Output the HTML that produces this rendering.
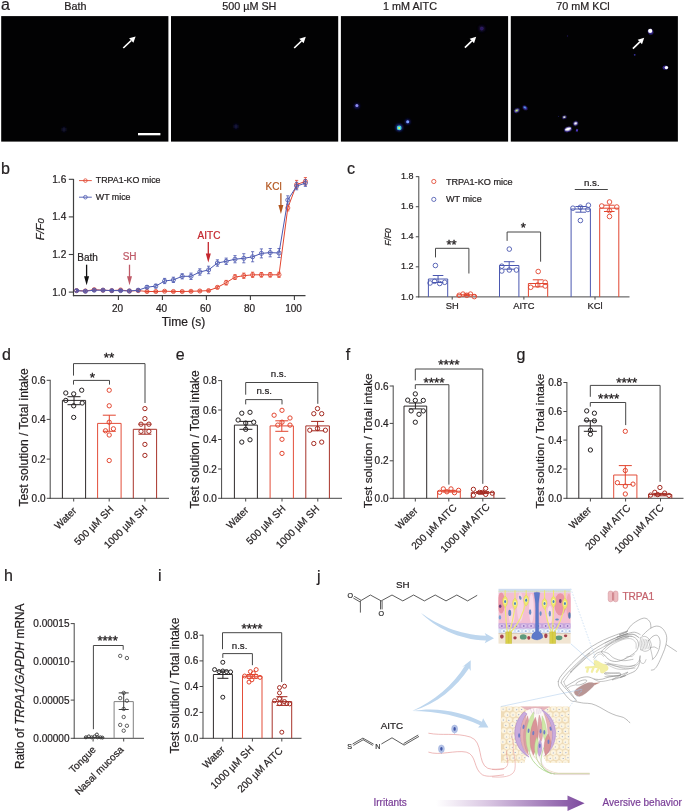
<!DOCTYPE html>
<html><head><meta charset="utf-8"><title>Figure</title>
<style>
html,body{margin:0;padding:0;background:#fff;}
body{width:685px;height:811px;overflow:hidden;font-family:"Liberation Sans",sans-serif;}
svg{display:block;opacity:0.999;}
svg text{font-family:"Liberation Sans",sans-serif;}
</style></head><body>
<svg width="685" height="811" viewBox="0 0 685 811">
<defs>
<filter id="bl1" x="-100%" y="-100%" width="300%" height="300%"><feGaussianBlur stdDeviation="0.7"/></filter>
<filter id="bl2" x="-100%" y="-100%" width="300%" height="300%"><feGaussianBlur stdDeviation="1.1"/></filter>
</defs>
<text x="1" y="10" fill="#231f20" text-anchor="start" style="font-size:16px;" stroke="#231f20" stroke-width="0.22">a</text>
<rect x="1.2" y="16.1" width="167.2" height="125.5" fill="#020203"/>
<text x="75.3" y="9.8" fill="#231f20" text-anchor="middle" style="font-size:10.8px;" stroke="#231f20" stroke-width="0.22">Bath</text>
<rect x="171" y="16.1" width="167.2" height="125.5" fill="#020203"/>
<text x="249.3" y="9.8" fill="#231f20" text-anchor="middle" style="font-size:10.8px;" stroke="#231f20" stroke-width="0.22">500 µM SH</text>
<rect x="340.9" y="16.1" width="167.2" height="125.5" fill="#020203"/>
<text x="410" y="9.8" fill="#231f20" text-anchor="middle" style="font-size:10.8px;" stroke="#231f20" stroke-width="0.22">1 mM AITC</text>
<rect x="510.8" y="16.1" width="167.1" height="125.5" fill="#020203"/>
<text x="583" y="9.8" fill="#231f20" text-anchor="middle" style="font-size:10.8px;" stroke="#231f20" stroke-width="0.22">70 mM KCl</text>
<rect x="138" y="133" width="22.4" height="2.3" fill="#fff"/>
<line x1="123.3" y1="48.0" x2="131.2" y2="40.5" stroke="#fff" stroke-width="1.7"/>
<polygon points="133.4,42.8 135.6,36.4 129.1,38.3" fill="#fff"/>
<line x1="294.2" y1="48.0" x2="301.5" y2="41.0" stroke="#fff" stroke-width="1.7"/>
<polygon points="303.6,43.2 305.8,36.8 299.3,38.7" fill="#fff"/>
<line x1="464.9" y1="47.6" x2="471.9" y2="40.9" stroke="#fff" stroke-width="1.7"/>
<polygon points="474.0,43.2 476.2,36.8 469.7,38.7" fill="#fff"/>
<line x1="632.9" y1="48.6" x2="639.9" y2="41.9" stroke="#fff" stroke-width="1.7"/>
<polygon points="642.0,44.2 644.2,37.8 637.7,39.7" fill="#fff"/>
<circle cx="64" cy="129.5" r="2.2" fill="#15153a" opacity="1" filter="url(#bl2)"/>
<circle cx="236" cy="126.5" r="2.2" fill="#17174a" opacity="1" filter="url(#bl2)"/>
<circle cx="481.8" cy="28.6" r="1.8" fill="#5a3fc0" opacity="1" filter="url(#bl1)"/>
<circle cx="481.8" cy="28.6" r="3.2" fill="#1a1040" opacity="0.8" filter="url(#bl2)"/>
<circle cx="356.9" cy="106" r="2.6" fill="#1b1d70" opacity="1" filter="url(#bl2)"/>
<circle cx="356.9" cy="105.6" r="1.5" fill="#8f8cf0" opacity="1" filter="url(#bl1)"/>
<circle cx="399.2" cy="127.6" r="3.6" fill="#1c2a8a" opacity="1" filter="url(#bl2)"/>
<circle cx="399.2" cy="127.9" r="2.4" fill="#3fd0d8" opacity="1" filter="url(#bl1)"/>
<circle cx="399.2" cy="128.1" r="1.1" fill="#d8f060" opacity="1" filter="url(#bl1)"/>
<circle cx="407.7" cy="121.8" r="2.5" fill="#1a2080" opacity="1" filter="url(#bl2)"/>
<circle cx="407.7" cy="121.8" r="1.5" fill="#7fa0ff" opacity="1" filter="url(#bl1)"/>
<ellipse cx="650.6" cy="31.8" rx="2.6" ry="3.0" fill="#3a2a98" opacity="0.9" filter="url(#bl1)" transform="rotate(-30 650.6 31.8)"/>
<circle cx="650.2" cy="30.9" r="2.1" fill="#ffffff" opacity="1" filter="url(#bl1)"/>
<ellipse cx="665.4" cy="67.6" rx="2.8" ry="2.2" fill="#3a2a98" opacity="0.9" filter="url(#bl1)" transform="rotate(0 665.4 67.6)"/>
<circle cx="666.4" cy="67.6" r="1.7" fill="#ffffff" opacity="1" filter="url(#bl1)"/>
<ellipse cx="516.7" cy="110.4" rx="2.9" ry="2.0" fill="#3a2aa0" opacity="1" filter="url(#bl1)" transform="rotate(-30 516.7 110.4)"/>
<ellipse cx="516.7" cy="110.4" rx="1.7" ry="1.0" fill="#c8f070" opacity="1" filter="url(#bl1)" transform="rotate(-30 516.7 110.4)"/>
<ellipse cx="525.1" cy="107.8" rx="2.7" ry="1.9" fill="#3a2aa0" opacity="1" filter="url(#bl1)" transform="rotate(40 525.1 107.8)"/>
<ellipse cx="524.9" cy="107.5" rx="1.3" ry="0.8" fill="#58c0f0" opacity="1" filter="url(#bl1)" transform="rotate(40 524.9 107.5)"/>
<ellipse cx="564.3" cy="117.2" rx="2.2" ry="1.7" fill="#3a2a98" opacity="0.9" filter="url(#bl1)" transform="rotate(-20 564.3 117.2)"/>
<ellipse cx="564.3" cy="117.1" rx="1.3" ry="0.9" fill="#f4ffd0" opacity="1" filter="url(#bl1)" transform="rotate(-20 564.3 117.1)"/>
<ellipse cx="575.6" cy="123.5" rx="2.6" ry="2.2" fill="#3a2a98" opacity="0.9" filter="url(#bl1)" transform="rotate(-30 575.6 123.5)"/>
<ellipse cx="575.6" cy="123.4" rx="1.6" ry="1.2" fill="#ffffff" opacity="1" filter="url(#bl1)" transform="rotate(-30 575.6 123.4)"/>
<ellipse cx="568" cy="129.3" rx="4.0" ry="2.6" fill="#3a2a98" opacity="0.9" filter="url(#bl1)" transform="rotate(-18 568 129.3)"/>
<ellipse cx="568" cy="129.1" rx="3.0" ry="1.7" fill="#ffffff" opacity="1" filter="url(#bl1)" transform="rotate(-18 568 129.1)"/>
<ellipse cx="577" cy="130.3" rx="1.0" ry="1.5" fill="#5038c8" opacity="1" filter="url(#bl1)" transform="rotate(10 577 130.3)"/>
<circle cx="634.7" cy="54.8" r="0.9" fill="#3830a0" opacity="1" filter="url(#bl1)"/>
<circle cx="558.5" cy="116.3" r="0.6" fill="#1c1850" opacity="1" filter="url(#bl1)"/>
<circle cx="567.5" cy="36" r="0.7" fill="#1c1850" opacity="1" filter="url(#bl1)"/>
<text x="1" y="174" fill="#231f20" text-anchor="start" style="font-size:16px;" stroke="#231f20" stroke-width="0.22">b</text>
<line x1="73.5" y1="178.9" x2="73.5" y2="296.2" stroke="#3f3f3f" stroke-width="1.2"/>
<line x1="72.9" y1="295.6" x2="305.5" y2="295.6" stroke="#3f3f3f" stroke-width="1.2"/>
<line x1="68.8" y1="292.1" x2="73.3" y2="292.1" stroke="#3f3f3f" stroke-width="1.1"/>
<text x="66.3" y="295.6" fill="#231f20" text-anchor="end" style="font-size:10.1px;" stroke="#231f20" stroke-width="0.22">1.0</text>
<line x1="68.8" y1="254.50000000000003" x2="73.3" y2="254.50000000000003" stroke="#3f3f3f" stroke-width="1.1"/>
<text x="66.3" y="258.0" fill="#231f20" text-anchor="end" style="font-size:10.1px;" stroke="#231f20" stroke-width="0.22">1.2</text>
<line x1="68.8" y1="216.90000000000003" x2="73.3" y2="216.90000000000003" stroke="#3f3f3f" stroke-width="1.1"/>
<text x="66.3" y="220.40000000000003" fill="#231f20" text-anchor="end" style="font-size:10.1px;" stroke="#231f20" stroke-width="0.22">1.4</text>
<line x1="68.8" y1="179.3" x2="73.3" y2="179.3" stroke="#3f3f3f" stroke-width="1.1"/>
<text x="66.3" y="182.8" fill="#231f20" text-anchor="end" style="font-size:10.1px;" stroke="#231f20" stroke-width="0.22">1.6</text>
<line x1="118.4" y1="295.6" x2="118.4" y2="300" stroke="#3f3f3f" stroke-width="1.1"/>
<text x="117.60000000000001" y="311.8" fill="#231f20" text-anchor="middle" style="font-size:10.0px;" stroke="#231f20" stroke-width="0.22">20</text>
<line x1="162.4" y1="295.6" x2="162.4" y2="300" stroke="#3f3f3f" stroke-width="1.1"/>
<text x="161.6" y="311.8" fill="#231f20" text-anchor="middle" style="font-size:10.0px;" stroke="#231f20" stroke-width="0.22">40</text>
<line x1="206.4" y1="295.6" x2="206.4" y2="300" stroke="#3f3f3f" stroke-width="1.1"/>
<text x="205.6" y="311.8" fill="#231f20" text-anchor="middle" style="font-size:10.0px;" stroke="#231f20" stroke-width="0.22">60</text>
<line x1="250.4" y1="295.6" x2="250.4" y2="300" stroke="#3f3f3f" stroke-width="1.1"/>
<text x="249.6" y="311.8" fill="#231f20" text-anchor="middle" style="font-size:10.0px;" stroke="#231f20" stroke-width="0.22">80</text>
<line x1="294.40000000000003" y1="295.6" x2="294.40000000000003" y2="300" stroke="#3f3f3f" stroke-width="1.1"/>
<text x="293.6" y="311.8" fill="#231f20" text-anchor="middle" style="font-size:10.0px;" stroke="#231f20" stroke-width="0.22">100</text>
<text x="183.5" y="325.6" fill="#231f20" text-anchor="middle" style="font-size:12px;" stroke="#231f20" stroke-width="0.22">Time (s)</text>
<text x="43.6" y="229.3" fill="#231f20" text-anchor="middle" style="font-size:11.2px;font-style:italic;" transform="rotate(-90 43.6 229.3)" stroke="#231f20" stroke-width="0.22"><tspan>F/F</tspan><tspan font-size="9.5">0</tspan></text>
<polyline points="76.6,290.6 85.4,291.0 94.2,289.7 103.0,290.2 111.8,290.6 120.6,290.0 129.4,291.0 138.2,290.6 147.0,291.5 155.8,291.5 164.6,291.2 173.4,291.5 182.2,291.5 191.0,291.3 199.8,291.0 208.6,290.6 217.4,287.4 226.2,282.7 235.0,277.1 243.8,275.7 252.6,274.8 261.4,274.8 270.2,274.8 279.0,274.8 287.8,207.9 296.6,184.6 305.4,181.4" fill="none" stroke="#e2452f" stroke-width="1"/>
<line x1="76.6" y1="289.7" x2="76.6" y2="291.5" stroke="#e2452f" stroke-width="0.8"/>
<line x1="75.0" y1="289.7" x2="78.19999999999999" y2="289.7" stroke="#e2452f" stroke-width="0.8"/>
<line x1="75.0" y1="291.5" x2="78.19999999999999" y2="291.5" stroke="#e2452f" stroke-width="0.8"/>
<circle cx="76.6" cy="290.6" r="2.05" stroke="#e2452f" stroke-width="0.85" fill="none"/>
<line x1="85.4" y1="290.0" x2="85.4" y2="291.9" stroke="#e2452f" stroke-width="0.8"/>
<line x1="83.80000000000001" y1="290.0" x2="87.0" y2="290.0" stroke="#e2452f" stroke-width="0.8"/>
<line x1="83.80000000000001" y1="291.9" x2="87.0" y2="291.9" stroke="#e2452f" stroke-width="0.8"/>
<circle cx="85.4" cy="291.0" r="2.05" stroke="#e2452f" stroke-width="0.85" fill="none"/>
<line x1="94.2" y1="288.7" x2="94.2" y2="290.6" stroke="#e2452f" stroke-width="0.8"/>
<line x1="92.60000000000001" y1="288.7" x2="95.8" y2="288.7" stroke="#e2452f" stroke-width="0.8"/>
<line x1="92.60000000000001" y1="290.6" x2="95.8" y2="290.6" stroke="#e2452f" stroke-width="0.8"/>
<circle cx="94.2" cy="289.7" r="2.05" stroke="#e2452f" stroke-width="0.85" fill="none"/>
<line x1="103.0" y1="289.3" x2="103.0" y2="291.2" stroke="#e2452f" stroke-width="0.8"/>
<line x1="101.4" y1="289.3" x2="104.6" y2="289.3" stroke="#e2452f" stroke-width="0.8"/>
<line x1="101.4" y1="291.2" x2="104.6" y2="291.2" stroke="#e2452f" stroke-width="0.8"/>
<circle cx="103.0" cy="290.2" r="2.05" stroke="#e2452f" stroke-width="0.85" fill="none"/>
<line x1="111.8" y1="289.7" x2="111.8" y2="291.5" stroke="#e2452f" stroke-width="0.8"/>
<line x1="110.2" y1="289.7" x2="113.39999999999999" y2="289.7" stroke="#e2452f" stroke-width="0.8"/>
<line x1="110.2" y1="291.5" x2="113.39999999999999" y2="291.5" stroke="#e2452f" stroke-width="0.8"/>
<circle cx="111.8" cy="290.6" r="2.05" stroke="#e2452f" stroke-width="0.85" fill="none"/>
<line x1="120.6" y1="289.1" x2="120.6" y2="291.0" stroke="#e2452f" stroke-width="0.8"/>
<line x1="119.0" y1="289.1" x2="122.19999999999999" y2="289.1" stroke="#e2452f" stroke-width="0.8"/>
<line x1="119.0" y1="291.0" x2="122.19999999999999" y2="291.0" stroke="#e2452f" stroke-width="0.8"/>
<circle cx="120.6" cy="290.0" r="2.05" stroke="#e2452f" stroke-width="0.85" fill="none"/>
<line x1="129.4" y1="290.0" x2="129.4" y2="291.9" stroke="#e2452f" stroke-width="0.8"/>
<line x1="127.80000000000001" y1="290.0" x2="131.0" y2="290.0" stroke="#e2452f" stroke-width="0.8"/>
<line x1="127.80000000000001" y1="291.9" x2="131.0" y2="291.9" stroke="#e2452f" stroke-width="0.8"/>
<circle cx="129.4" cy="291.0" r="2.05" stroke="#e2452f" stroke-width="0.85" fill="none"/>
<line x1="138.2" y1="289.7" x2="138.2" y2="291.5" stroke="#e2452f" stroke-width="0.8"/>
<line x1="136.6" y1="289.7" x2="139.79999999999998" y2="289.7" stroke="#e2452f" stroke-width="0.8"/>
<line x1="136.6" y1="291.5" x2="139.79999999999998" y2="291.5" stroke="#e2452f" stroke-width="0.8"/>
<circle cx="138.2" cy="290.6" r="2.05" stroke="#e2452f" stroke-width="0.85" fill="none"/>
<line x1="147.0" y1="290.8" x2="147.0" y2="292.3" stroke="#e2452f" stroke-width="0.8"/>
<line x1="145.4" y1="290.8" x2="148.6" y2="290.8" stroke="#e2452f" stroke-width="0.8"/>
<line x1="145.4" y1="292.3" x2="148.6" y2="292.3" stroke="#e2452f" stroke-width="0.8"/>
<circle cx="147.0" cy="291.5" r="2.05" stroke="#e2452f" stroke-width="0.85" fill="none"/>
<line x1="155.8" y1="290.8" x2="155.8" y2="292.3" stroke="#e2452f" stroke-width="0.8"/>
<line x1="154.20000000000002" y1="290.8" x2="157.4" y2="290.8" stroke="#e2452f" stroke-width="0.8"/>
<line x1="154.20000000000002" y1="292.3" x2="157.4" y2="292.3" stroke="#e2452f" stroke-width="0.8"/>
<circle cx="155.8" cy="291.5" r="2.05" stroke="#e2452f" stroke-width="0.85" fill="none"/>
<line x1="164.6" y1="290.4" x2="164.6" y2="291.9" stroke="#e2452f" stroke-width="0.8"/>
<line x1="163.0" y1="290.4" x2="166.2" y2="290.4" stroke="#e2452f" stroke-width="0.8"/>
<line x1="163.0" y1="291.9" x2="166.2" y2="291.9" stroke="#e2452f" stroke-width="0.8"/>
<circle cx="164.6" cy="291.2" r="2.05" stroke="#e2452f" stroke-width="0.85" fill="none"/>
<line x1="173.4" y1="290.8" x2="173.4" y2="292.3" stroke="#e2452f" stroke-width="0.8"/>
<line x1="171.8" y1="290.8" x2="175.0" y2="290.8" stroke="#e2452f" stroke-width="0.8"/>
<line x1="171.8" y1="292.3" x2="175.0" y2="292.3" stroke="#e2452f" stroke-width="0.8"/>
<circle cx="173.4" cy="291.5" r="2.05" stroke="#e2452f" stroke-width="0.85" fill="none"/>
<line x1="182.2" y1="290.8" x2="182.2" y2="292.3" stroke="#e2452f" stroke-width="0.8"/>
<line x1="180.6" y1="290.8" x2="183.79999999999998" y2="290.8" stroke="#e2452f" stroke-width="0.8"/>
<line x1="180.6" y1="292.3" x2="183.79999999999998" y2="292.3" stroke="#e2452f" stroke-width="0.8"/>
<circle cx="182.2" cy="291.5" r="2.05" stroke="#e2452f" stroke-width="0.85" fill="none"/>
<line x1="191.0" y1="290.6" x2="191.0" y2="292.1" stroke="#e2452f" stroke-width="0.8"/>
<line x1="189.4" y1="290.6" x2="192.6" y2="290.6" stroke="#e2452f" stroke-width="0.8"/>
<line x1="189.4" y1="292.1" x2="192.6" y2="292.1" stroke="#e2452f" stroke-width="0.8"/>
<circle cx="191.0" cy="291.3" r="2.05" stroke="#e2452f" stroke-width="0.85" fill="none"/>
<line x1="199.8" y1="290.0" x2="199.8" y2="291.9" stroke="#e2452f" stroke-width="0.8"/>
<line x1="198.20000000000002" y1="290.0" x2="201.4" y2="290.0" stroke="#e2452f" stroke-width="0.8"/>
<line x1="198.20000000000002" y1="291.9" x2="201.4" y2="291.9" stroke="#e2452f" stroke-width="0.8"/>
<circle cx="199.8" cy="291.0" r="2.05" stroke="#e2452f" stroke-width="0.85" fill="none"/>
<line x1="208.6" y1="289.7" x2="208.6" y2="291.5" stroke="#e2452f" stroke-width="0.8"/>
<line x1="207.0" y1="289.7" x2="210.2" y2="289.7" stroke="#e2452f" stroke-width="0.8"/>
<line x1="207.0" y1="291.5" x2="210.2" y2="291.5" stroke="#e2452f" stroke-width="0.8"/>
<circle cx="208.6" cy="290.6" r="2.05" stroke="#e2452f" stroke-width="0.85" fill="none"/>
<line x1="217.4" y1="286.1" x2="217.4" y2="288.7" stroke="#e2452f" stroke-width="0.8"/>
<line x1="215.8" y1="286.1" x2="219.0" y2="286.1" stroke="#e2452f" stroke-width="0.8"/>
<line x1="215.8" y1="288.7" x2="219.0" y2="288.7" stroke="#e2452f" stroke-width="0.8"/>
<circle cx="217.4" cy="287.4" r="2.05" stroke="#e2452f" stroke-width="0.85" fill="none"/>
<line x1="226.2" y1="280.4" x2="226.2" y2="285.0" stroke="#e2452f" stroke-width="0.8"/>
<line x1="224.6" y1="280.4" x2="227.79999999999998" y2="280.4" stroke="#e2452f" stroke-width="0.8"/>
<line x1="224.6" y1="285.0" x2="227.79999999999998" y2="285.0" stroke="#e2452f" stroke-width="0.8"/>
<circle cx="226.2" cy="282.7" r="2.05" stroke="#e2452f" stroke-width="0.85" fill="none"/>
<line x1="235.0" y1="274.6" x2="235.0" y2="279.5" stroke="#e2452f" stroke-width="0.8"/>
<line x1="233.4" y1="274.6" x2="236.6" y2="274.6" stroke="#e2452f" stroke-width="0.8"/>
<line x1="233.4" y1="279.5" x2="236.6" y2="279.5" stroke="#e2452f" stroke-width="0.8"/>
<circle cx="235.0" cy="277.1" r="2.05" stroke="#e2452f" stroke-width="0.85" fill="none"/>
<line x1="243.8" y1="273.1" x2="243.8" y2="278.4" stroke="#e2452f" stroke-width="0.8"/>
<line x1="242.20000000000002" y1="273.1" x2="245.4" y2="273.1" stroke="#e2452f" stroke-width="0.8"/>
<line x1="242.20000000000002" y1="278.4" x2="245.4" y2="278.4" stroke="#e2452f" stroke-width="0.8"/>
<circle cx="243.8" cy="275.7" r="2.05" stroke="#e2452f" stroke-width="0.85" fill="none"/>
<line x1="252.6" y1="272.2" x2="252.6" y2="277.4" stroke="#e2452f" stroke-width="0.8"/>
<line x1="251.0" y1="272.2" x2="254.2" y2="272.2" stroke="#e2452f" stroke-width="0.8"/>
<line x1="251.0" y1="277.4" x2="254.2" y2="277.4" stroke="#e2452f" stroke-width="0.8"/>
<circle cx="252.6" cy="274.8" r="2.05" stroke="#e2452f" stroke-width="0.85" fill="none"/>
<line x1="261.4" y1="272.5" x2="261.4" y2="277.1" stroke="#e2452f" stroke-width="0.8"/>
<line x1="259.79999999999995" y1="272.5" x2="263.0" y2="272.5" stroke="#e2452f" stroke-width="0.8"/>
<line x1="259.79999999999995" y1="277.1" x2="263.0" y2="277.1" stroke="#e2452f" stroke-width="0.8"/>
<circle cx="261.4" cy="274.8" r="2.05" stroke="#e2452f" stroke-width="0.85" fill="none"/>
<line x1="270.2" y1="272.5" x2="270.2" y2="277.1" stroke="#e2452f" stroke-width="0.8"/>
<line x1="268.59999999999997" y1="272.5" x2="271.8" y2="272.5" stroke="#e2452f" stroke-width="0.8"/>
<line x1="268.59999999999997" y1="277.1" x2="271.8" y2="277.1" stroke="#e2452f" stroke-width="0.8"/>
<circle cx="270.2" cy="274.8" r="2.05" stroke="#e2452f" stroke-width="0.85" fill="none"/>
<line x1="279.0" y1="272.2" x2="279.0" y2="277.4" stroke="#e2452f" stroke-width="0.8"/>
<line x1="277.4" y1="272.2" x2="280.6" y2="272.2" stroke="#e2452f" stroke-width="0.8"/>
<line x1="277.4" y1="277.4" x2="280.6" y2="277.4" stroke="#e2452f" stroke-width="0.8"/>
<circle cx="279.0" cy="274.8" r="2.05" stroke="#e2452f" stroke-width="0.85" fill="none"/>
<line x1="287.8" y1="204.9" x2="287.8" y2="210.9" stroke="#e2452f" stroke-width="0.8"/>
<line x1="286.2" y1="204.9" x2="289.40000000000003" y2="204.9" stroke="#e2452f" stroke-width="0.8"/>
<line x1="286.2" y1="210.9" x2="289.40000000000003" y2="210.9" stroke="#e2452f" stroke-width="0.8"/>
<circle cx="287.8" cy="207.9" r="2.05" stroke="#e2452f" stroke-width="0.85" fill="none"/>
<line x1="296.6" y1="180.4" x2="296.6" y2="188.7" stroke="#e2452f" stroke-width="0.8"/>
<line x1="295.0" y1="180.4" x2="298.20000000000005" y2="180.4" stroke="#e2452f" stroke-width="0.8"/>
<line x1="295.0" y1="188.7" x2="298.20000000000005" y2="188.7" stroke="#e2452f" stroke-width="0.8"/>
<circle cx="296.6" cy="184.6" r="2.05" stroke="#e2452f" stroke-width="0.85" fill="none"/>
<line x1="305.4" y1="177.6" x2="305.4" y2="185.1" stroke="#e2452f" stroke-width="0.8"/>
<line x1="303.79999999999995" y1="177.6" x2="307.0" y2="177.6" stroke="#e2452f" stroke-width="0.8"/>
<line x1="303.79999999999995" y1="185.1" x2="307.0" y2="185.1" stroke="#e2452f" stroke-width="0.8"/>
<circle cx="305.4" cy="181.4" r="2.05" stroke="#e2452f" stroke-width="0.85" fill="none"/>
<polyline points="76.6,290.6 85.4,291.2 94.2,290.2 103.0,290.2 111.8,290.6 120.6,290.6 129.4,291.0 138.2,290.2 147.0,287.2 155.8,286.1 164.6,281.0 173.4,279.9 182.2,276.3 191.0,276.3 199.8,272.0 208.6,269.9 217.4,263.0 226.2,261.3 235.0,259.2 243.8,258.3 252.6,256.8 261.4,253.4 270.2,252.6 279.0,253.0 287.8,200.0 296.6,186.1 305.4,183.1" fill="none" stroke="#4b58b0" stroke-width="1"/>
<line x1="76.6" y1="289.5" x2="76.6" y2="291.7" stroke="#4b58b0" stroke-width="0.8"/>
<line x1="75.0" y1="289.5" x2="78.19999999999999" y2="289.5" stroke="#4b58b0" stroke-width="0.8"/>
<line x1="75.0" y1="291.7" x2="78.19999999999999" y2="291.7" stroke="#4b58b0" stroke-width="0.8"/>
<circle cx="76.6" cy="290.6" r="2.05" stroke="#4b58b0" stroke-width="0.85" fill="none"/>
<line x1="85.4" y1="290.0" x2="85.4" y2="292.3" stroke="#4b58b0" stroke-width="0.8"/>
<line x1="83.80000000000001" y1="290.0" x2="87.0" y2="290.0" stroke="#4b58b0" stroke-width="0.8"/>
<line x1="83.80000000000001" y1="292.3" x2="87.0" y2="292.3" stroke="#4b58b0" stroke-width="0.8"/>
<circle cx="85.4" cy="291.2" r="2.05" stroke="#4b58b0" stroke-width="0.85" fill="none"/>
<line x1="94.2" y1="289.1" x2="94.2" y2="291.3" stroke="#4b58b0" stroke-width="0.8"/>
<line x1="92.60000000000001" y1="289.1" x2="95.8" y2="289.1" stroke="#4b58b0" stroke-width="0.8"/>
<line x1="92.60000000000001" y1="291.3" x2="95.8" y2="291.3" stroke="#4b58b0" stroke-width="0.8"/>
<circle cx="94.2" cy="290.2" r="2.05" stroke="#4b58b0" stroke-width="0.85" fill="none"/>
<line x1="103.0" y1="289.1" x2="103.0" y2="291.3" stroke="#4b58b0" stroke-width="0.8"/>
<line x1="101.4" y1="289.1" x2="104.6" y2="289.1" stroke="#4b58b0" stroke-width="0.8"/>
<line x1="101.4" y1="291.3" x2="104.6" y2="291.3" stroke="#4b58b0" stroke-width="0.8"/>
<circle cx="103.0" cy="290.2" r="2.05" stroke="#4b58b0" stroke-width="0.85" fill="none"/>
<line x1="111.8" y1="289.5" x2="111.8" y2="291.7" stroke="#4b58b0" stroke-width="0.8"/>
<line x1="110.2" y1="289.5" x2="113.39999999999999" y2="289.5" stroke="#4b58b0" stroke-width="0.8"/>
<line x1="110.2" y1="291.7" x2="113.39999999999999" y2="291.7" stroke="#4b58b0" stroke-width="0.8"/>
<circle cx="111.8" cy="290.6" r="2.05" stroke="#4b58b0" stroke-width="0.85" fill="none"/>
<line x1="120.6" y1="289.5" x2="120.6" y2="291.7" stroke="#4b58b0" stroke-width="0.8"/>
<line x1="119.0" y1="289.5" x2="122.19999999999999" y2="289.5" stroke="#4b58b0" stroke-width="0.8"/>
<line x1="119.0" y1="291.7" x2="122.19999999999999" y2="291.7" stroke="#4b58b0" stroke-width="0.8"/>
<circle cx="120.6" cy="290.6" r="2.05" stroke="#4b58b0" stroke-width="0.85" fill="none"/>
<line x1="129.4" y1="289.8" x2="129.4" y2="292.1" stroke="#4b58b0" stroke-width="0.8"/>
<line x1="127.80000000000001" y1="289.8" x2="131.0" y2="289.8" stroke="#4b58b0" stroke-width="0.8"/>
<line x1="127.80000000000001" y1="292.1" x2="131.0" y2="292.1" stroke="#4b58b0" stroke-width="0.8"/>
<circle cx="129.4" cy="291.0" r="2.05" stroke="#4b58b0" stroke-width="0.85" fill="none"/>
<line x1="138.2" y1="288.9" x2="138.2" y2="291.5" stroke="#4b58b0" stroke-width="0.8"/>
<line x1="136.6" y1="288.9" x2="139.79999999999998" y2="288.9" stroke="#4b58b0" stroke-width="0.8"/>
<line x1="136.6" y1="291.5" x2="139.79999999999998" y2="291.5" stroke="#4b58b0" stroke-width="0.8"/>
<circle cx="138.2" cy="290.2" r="2.05" stroke="#4b58b0" stroke-width="0.85" fill="none"/>
<line x1="147.0" y1="285.7" x2="147.0" y2="288.7" stroke="#4b58b0" stroke-width="0.8"/>
<line x1="145.4" y1="285.7" x2="148.6" y2="285.7" stroke="#4b58b0" stroke-width="0.8"/>
<line x1="145.4" y1="288.7" x2="148.6" y2="288.7" stroke="#4b58b0" stroke-width="0.8"/>
<circle cx="147.0" cy="287.2" r="2.05" stroke="#4b58b0" stroke-width="0.85" fill="none"/>
<line x1="155.8" y1="284.2" x2="155.8" y2="288.0" stroke="#4b58b0" stroke-width="0.8"/>
<line x1="154.20000000000002" y1="284.2" x2="157.4" y2="284.2" stroke="#4b58b0" stroke-width="0.8"/>
<line x1="154.20000000000002" y1="288.0" x2="157.4" y2="288.0" stroke="#4b58b0" stroke-width="0.8"/>
<circle cx="155.8" cy="286.1" r="2.05" stroke="#4b58b0" stroke-width="0.85" fill="none"/>
<line x1="164.6" y1="278.4" x2="164.6" y2="283.6" stroke="#4b58b0" stroke-width="0.8"/>
<line x1="163.0" y1="278.4" x2="166.2" y2="278.4" stroke="#4b58b0" stroke-width="0.8"/>
<line x1="163.0" y1="283.6" x2="166.2" y2="283.6" stroke="#4b58b0" stroke-width="0.8"/>
<circle cx="164.6" cy="281.0" r="2.05" stroke="#4b58b0" stroke-width="0.85" fill="none"/>
<line x1="173.4" y1="277.2" x2="173.4" y2="282.5" stroke="#4b58b0" stroke-width="0.8"/>
<line x1="171.8" y1="277.2" x2="175.0" y2="277.2" stroke="#4b58b0" stroke-width="0.8"/>
<line x1="171.8" y1="282.5" x2="175.0" y2="282.5" stroke="#4b58b0" stroke-width="0.8"/>
<circle cx="173.4" cy="279.9" r="2.05" stroke="#4b58b0" stroke-width="0.85" fill="none"/>
<line x1="182.2" y1="273.7" x2="182.2" y2="278.9" stroke="#4b58b0" stroke-width="0.8"/>
<line x1="180.6" y1="273.7" x2="183.79999999999998" y2="273.7" stroke="#4b58b0" stroke-width="0.8"/>
<line x1="180.6" y1="278.9" x2="183.79999999999998" y2="278.9" stroke="#4b58b0" stroke-width="0.8"/>
<circle cx="182.2" cy="276.3" r="2.05" stroke="#4b58b0" stroke-width="0.85" fill="none"/>
<line x1="191.0" y1="273.1" x2="191.0" y2="279.5" stroke="#4b58b0" stroke-width="0.8"/>
<line x1="189.4" y1="273.1" x2="192.6" y2="273.1" stroke="#4b58b0" stroke-width="0.8"/>
<line x1="189.4" y1="279.5" x2="192.6" y2="279.5" stroke="#4b58b0" stroke-width="0.8"/>
<circle cx="191.0" cy="276.3" r="2.05" stroke="#4b58b0" stroke-width="0.85" fill="none"/>
<line x1="199.8" y1="268.8" x2="199.8" y2="275.2" stroke="#4b58b0" stroke-width="0.8"/>
<line x1="198.20000000000002" y1="268.8" x2="201.4" y2="268.8" stroke="#4b58b0" stroke-width="0.8"/>
<line x1="198.20000000000002" y1="275.2" x2="201.4" y2="275.2" stroke="#4b58b0" stroke-width="0.8"/>
<circle cx="199.8" cy="272.0" r="2.05" stroke="#4b58b0" stroke-width="0.85" fill="none"/>
<line x1="208.6" y1="266.2" x2="208.6" y2="273.7" stroke="#4b58b0" stroke-width="0.8"/>
<line x1="207.0" y1="266.2" x2="210.2" y2="266.2" stroke="#4b58b0" stroke-width="0.8"/>
<line x1="207.0" y1="273.7" x2="210.2" y2="273.7" stroke="#4b58b0" stroke-width="0.8"/>
<circle cx="208.6" cy="269.9" r="2.05" stroke="#4b58b0" stroke-width="0.85" fill="none"/>
<line x1="217.4" y1="259.8" x2="217.4" y2="266.2" stroke="#4b58b0" stroke-width="0.8"/>
<line x1="215.8" y1="259.8" x2="219.0" y2="259.8" stroke="#4b58b0" stroke-width="0.8"/>
<line x1="215.8" y1="266.2" x2="219.0" y2="266.2" stroke="#4b58b0" stroke-width="0.8"/>
<circle cx="217.4" cy="263.0" r="2.05" stroke="#4b58b0" stroke-width="0.85" fill="none"/>
<line x1="226.2" y1="258.1" x2="226.2" y2="264.5" stroke="#4b58b0" stroke-width="0.8"/>
<line x1="224.6" y1="258.1" x2="227.79999999999998" y2="258.1" stroke="#4b58b0" stroke-width="0.8"/>
<line x1="224.6" y1="264.5" x2="227.79999999999998" y2="264.5" stroke="#4b58b0" stroke-width="0.8"/>
<circle cx="226.2" cy="261.3" r="2.05" stroke="#4b58b0" stroke-width="0.85" fill="none"/>
<line x1="235.0" y1="255.6" x2="235.0" y2="262.8" stroke="#4b58b0" stroke-width="0.8"/>
<line x1="233.4" y1="255.6" x2="236.6" y2="255.6" stroke="#4b58b0" stroke-width="0.8"/>
<line x1="233.4" y1="262.8" x2="236.6" y2="262.8" stroke="#4b58b0" stroke-width="0.8"/>
<circle cx="235.0" cy="259.2" r="2.05" stroke="#4b58b0" stroke-width="0.85" fill="none"/>
<line x1="243.8" y1="253.7" x2="243.8" y2="262.8" stroke="#4b58b0" stroke-width="0.8"/>
<line x1="242.20000000000002" y1="253.7" x2="245.4" y2="253.7" stroke="#4b58b0" stroke-width="0.8"/>
<line x1="242.20000000000002" y1="262.8" x2="245.4" y2="262.8" stroke="#4b58b0" stroke-width="0.8"/>
<circle cx="243.8" cy="258.3" r="2.05" stroke="#4b58b0" stroke-width="0.85" fill="none"/>
<line x1="252.6" y1="251.7" x2="252.6" y2="261.8" stroke="#4b58b0" stroke-width="0.8"/>
<line x1="251.0" y1="251.7" x2="254.2" y2="251.7" stroke="#4b58b0" stroke-width="0.8"/>
<line x1="251.0" y1="261.8" x2="254.2" y2="261.8" stroke="#4b58b0" stroke-width="0.8"/>
<circle cx="252.6" cy="256.8" r="2.05" stroke="#4b58b0" stroke-width="0.85" fill="none"/>
<line x1="261.4" y1="248.9" x2="261.4" y2="257.9" stroke="#4b58b0" stroke-width="0.8"/>
<line x1="259.79999999999995" y1="248.9" x2="263.0" y2="248.9" stroke="#4b58b0" stroke-width="0.8"/>
<line x1="259.79999999999995" y1="257.9" x2="263.0" y2="257.9" stroke="#4b58b0" stroke-width="0.8"/>
<circle cx="261.4" cy="253.4" r="2.05" stroke="#4b58b0" stroke-width="0.85" fill="none"/>
<line x1="270.2" y1="248.5" x2="270.2" y2="256.8" stroke="#4b58b0" stroke-width="0.8"/>
<line x1="268.59999999999997" y1="248.5" x2="271.8" y2="248.5" stroke="#4b58b0" stroke-width="0.8"/>
<line x1="268.59999999999997" y1="256.8" x2="271.8" y2="256.8" stroke="#4b58b0" stroke-width="0.8"/>
<circle cx="270.2" cy="252.6" r="2.05" stroke="#4b58b0" stroke-width="0.85" fill="none"/>
<line x1="279.0" y1="248.5" x2="279.0" y2="257.5" stroke="#4b58b0" stroke-width="0.8"/>
<line x1="277.4" y1="248.5" x2="280.6" y2="248.5" stroke="#4b58b0" stroke-width="0.8"/>
<line x1="277.4" y1="257.5" x2="280.6" y2="257.5" stroke="#4b58b0" stroke-width="0.8"/>
<circle cx="279.0" cy="253.0" r="2.05" stroke="#4b58b0" stroke-width="0.85" fill="none"/>
<line x1="287.8" y1="195.8" x2="287.8" y2="204.1" stroke="#4b58b0" stroke-width="0.8"/>
<line x1="286.2" y1="195.8" x2="289.40000000000003" y2="195.8" stroke="#4b58b0" stroke-width="0.8"/>
<line x1="286.2" y1="204.1" x2="289.40000000000003" y2="204.1" stroke="#4b58b0" stroke-width="0.8"/>
<circle cx="287.8" cy="200.0" r="2.05" stroke="#4b58b0" stroke-width="0.85" fill="none"/>
<line x1="296.6" y1="182.3" x2="296.6" y2="189.8" stroke="#4b58b0" stroke-width="0.8"/>
<line x1="295.0" y1="182.3" x2="298.20000000000005" y2="182.3" stroke="#4b58b0" stroke-width="0.8"/>
<line x1="295.0" y1="189.8" x2="298.20000000000005" y2="189.8" stroke="#4b58b0" stroke-width="0.8"/>
<circle cx="296.6" cy="186.1" r="2.05" stroke="#4b58b0" stroke-width="0.85" fill="none"/>
<line x1="305.4" y1="179.7" x2="305.4" y2="186.4" stroke="#4b58b0" stroke-width="0.8"/>
<line x1="303.79999999999995" y1="179.7" x2="307.0" y2="179.7" stroke="#4b58b0" stroke-width="0.8"/>
<line x1="303.79999999999995" y1="186.4" x2="307.0" y2="186.4" stroke="#4b58b0" stroke-width="0.8"/>
<circle cx="305.4" cy="183.1" r="2.05" stroke="#4b58b0" stroke-width="0.85" fill="none"/>
<line x1="79" y1="180.6" x2="91.8" y2="180.6" stroke="#e2452f" stroke-width="0.9"/>
<circle cx="85.4" cy="180.6" r="1.8" stroke="#e2452f" stroke-width="0.8" fill="none"/>
<text x="95.8" y="183.1" fill="#231f20" text-anchor="start" style="font-size:8.85px;" stroke="#231f20" stroke-width="0.22">TRPA1-KO mice</text>
<line x1="79" y1="197.2" x2="91.8" y2="197.2" stroke="#4b58b0" stroke-width="0.9"/>
<circle cx="85.4" cy="197.2" r="1.8" stroke="#4b58b0" stroke-width="0.8" fill="none"/>
<text x="95.8" y="200" fill="#231f20" text-anchor="start" style="font-size:8.85px;" stroke="#231f20" stroke-width="0.22">WT mice</text>
<text x="87.6" y="260.9" fill="#231f20" text-anchor="middle" style="font-size:10px;" stroke="#231f20" stroke-width="0.22">Bath</text>
<line x1="86.6" y1="264.7" x2="86.6" y2="277.2" stroke="#111" stroke-width="1.3"/>
<polygon points="84.1,276.2 89.1,276.2 86.6,285.2" fill="#111"/>
<text x="129.6" y="259.8" fill="#bf5a68" text-anchor="middle" style="font-size:10px;" stroke="#bf5a68" stroke-width="0.22">SH</text>
<line x1="129.5" y1="264.7" x2="129.5" y2="277.2" stroke="#bf5a68" stroke-width="1.3"/>
<polygon points="127.0,276.2 132.0,276.2 129.5,285.2" fill="#bf5a68"/>
<text x="209" y="239.4" fill="#c4272e" text-anchor="middle" style="font-size:10px;" stroke="#c4272e" stroke-width="0.22">AITC</text>
<line x1="208.3" y1="242" x2="208.3" y2="254.60000000000002" stroke="#c4272e" stroke-width="1.3"/>
<polygon points="205.8,253.60000000000002 210.8,253.60000000000002 208.3,262.6" fill="#c4272e"/>
<text x="273.6" y="189.6" fill="#b2561f" text-anchor="middle" style="font-size:10px;" stroke="#b2561f" stroke-width="0.22">KCl</text>
<line x1="280.9" y1="193.2" x2="280.9" y2="206.1" stroke="#b2561f" stroke-width="1.3"/>
<polygon points="278.4,205.1 283.4,205.1 280.9,214.1" fill="#b2561f"/>
<text x="347" y="173.6" fill="#231f20" text-anchor="start" style="font-size:16px;" stroke="#231f20" stroke-width="0.22">c</text>
<line x1="418.8" y1="176.3" x2="418.8" y2="297.4" stroke="#474747" stroke-width="1"/>
<line x1="418.3" y1="296.9" x2="629.5" y2="296.9" stroke="#474747" stroke-width="1"/>
<line x1="415.8" y1="296.9" x2="418.8" y2="296.9" stroke="#474747" stroke-width="1"/>
<text x="413.6" y="299.5" fill="#231f20" text-anchor="end" style="font-size:9px;" stroke="#231f20" stroke-width="0.22">1.0</text>
<line x1="415.8" y1="266.84" x2="418.8" y2="266.84" stroke="#474747" stroke-width="1"/>
<text x="413.6" y="269.44" fill="#231f20" text-anchor="end" style="font-size:9px;" stroke="#231f20" stroke-width="0.22">1.2</text>
<line x1="415.8" y1="236.77999999999997" x2="418.8" y2="236.77999999999997" stroke="#474747" stroke-width="1"/>
<text x="413.6" y="239.37999999999997" fill="#231f20" text-anchor="end" style="font-size:9px;" stroke="#231f20" stroke-width="0.22">1.4</text>
<line x1="415.8" y1="206.71999999999997" x2="418.8" y2="206.71999999999997" stroke="#474747" stroke-width="1"/>
<text x="413.6" y="209.31999999999996" fill="#231f20" text-anchor="end" style="font-size:9px;" stroke="#231f20" stroke-width="0.22">1.6</text>
<line x1="415.8" y1="176.65999999999997" x2="418.8" y2="176.65999999999997" stroke="#474747" stroke-width="1"/>
<text x="413.6" y="179.25999999999996" fill="#231f20" text-anchor="end" style="font-size:9px;" stroke="#231f20" stroke-width="0.22">1.8</text>
<text x="390.8" y="237" fill="#231f20" text-anchor="middle" style="font-size:8.5px;font-style:italic;" transform="rotate(-90 390.8 237)" stroke="#231f20" stroke-width="0.22">F/F0</text>
<circle cx="433.8" cy="181.5" r="2.1" stroke="#e2452f" stroke-width="0.85" fill="none"/>
<text x="445.9" y="184.9" fill="#231f20" text-anchor="start" style="font-size:9.15px;" stroke="#231f20" stroke-width="0.22">TRPA1-KO mice</text>
<circle cx="433.8" cy="199.4" r="2.1" stroke="#4b58b0" stroke-width="0.85" fill="none"/>
<text x="445.9" y="202.3" fill="#231f20" text-anchor="start" style="font-size:9.15px;" stroke="#231f20" stroke-width="0.22">WT mice</text>
<path d="M428.4 296.9V279H447.7V296.9" fill="none" stroke="#4b58b0" stroke-width="1"/>
<line x1="438.04999999999995" y1="275.5" x2="438.04999999999995" y2="282.5" stroke="#4b58b0" stroke-width="1"/>
<line x1="432.74999999999994" y1="275.5" x2="443.34999999999997" y2="275.5" stroke="#4b58b0" stroke-width="1"/>
<line x1="432.74999999999994" y1="282.5" x2="443.34999999999997" y2="282.5" stroke="#4b58b0" stroke-width="1"/>
<circle cx="435.4" cy="265.5" r="2.3" stroke="#4b58b0" stroke-width="0.9" fill="none"/>
<circle cx="430.1" cy="283" r="2.3" stroke="#4b58b0" stroke-width="0.9" fill="none"/>
<circle cx="434.6" cy="281.3" r="2.3" stroke="#4b58b0" stroke-width="0.9" fill="none"/>
<circle cx="439.7" cy="283.5" r="2.3" stroke="#4b58b0" stroke-width="0.9" fill="none"/>
<circle cx="444.7" cy="282.3" r="2.3" stroke="#4b58b0" stroke-width="0.9" fill="none"/>
<path d="M457.2 296.9V294.8H476V296.9" fill="none" stroke="#e2452f" stroke-width="1"/>
<line x1="466.6" y1="294" x2="466.6" y2="295.6" stroke="#e2452f" stroke-width="1"/>
<line x1="463.6" y1="294" x2="469.6" y2="294" stroke="#e2452f" stroke-width="1"/>
<line x1="463.6" y1="295.6" x2="469.6" y2="295.6" stroke="#e2452f" stroke-width="1"/>
<circle cx="459.2" cy="295.3" r="2.3" stroke="#e2452f" stroke-width="0.9" fill="none"/>
<circle cx="463" cy="294.1" r="2.3" stroke="#e2452f" stroke-width="0.9" fill="none"/>
<circle cx="466.8" cy="295.3" r="2.3" stroke="#e2452f" stroke-width="0.9" fill="none"/>
<circle cx="470.5" cy="294.1" r="2.3" stroke="#e2452f" stroke-width="0.9" fill="none"/>
<circle cx="474.3" cy="296.6" r="2.3" stroke="#e2452f" stroke-width="0.9" fill="none"/>
<path d="M499.5 296.9V265.5H518.9V296.9" fill="none" stroke="#4b58b0" stroke-width="1"/>
<line x1="509.2" y1="261.7" x2="509.2" y2="269.2" stroke="#4b58b0" stroke-width="1"/>
<line x1="503.9" y1="261.7" x2="514.5" y2="261.7" stroke="#4b58b0" stroke-width="1"/>
<line x1="503.9" y1="269.2" x2="514.5" y2="269.2" stroke="#4b58b0" stroke-width="1"/>
<circle cx="509.3" cy="249.1" r="2.3" stroke="#4b58b0" stroke-width="0.9" fill="none"/>
<circle cx="501.8" cy="266.2" r="2.3" stroke="#4b58b0" stroke-width="0.9" fill="none"/>
<circle cx="501.8" cy="271" r="2.3" stroke="#4b58b0" stroke-width="0.9" fill="none"/>
<circle cx="509.3" cy="270" r="2.3" stroke="#4b58b0" stroke-width="0.9" fill="none"/>
<circle cx="516.4" cy="270" r="2.3" stroke="#4b58b0" stroke-width="0.9" fill="none"/>
<path d="M528.4 296.9V283.5H547.7V296.9" fill="none" stroke="#e2452f" stroke-width="1"/>
<line x1="538.05" y1="279.8" x2="538.05" y2="286.8" stroke="#e2452f" stroke-width="1"/>
<line x1="532.75" y1="279.8" x2="543.3499999999999" y2="279.8" stroke="#e2452f" stroke-width="1"/>
<line x1="532.75" y1="286.8" x2="543.3499999999999" y2="286.8" stroke="#e2452f" stroke-width="1"/>
<circle cx="538.2" cy="271.5" r="2.3" stroke="#e2452f" stroke-width="0.9" fill="none"/>
<circle cx="545.2" cy="282.3" r="2.3" stroke="#e2452f" stroke-width="0.9" fill="none"/>
<circle cx="530.7" cy="287.3" r="2.3" stroke="#e2452f" stroke-width="0.9" fill="none"/>
<circle cx="537.7" cy="285" r="2.3" stroke="#e2452f" stroke-width="0.9" fill="none"/>
<circle cx="545.2" cy="286" r="2.3" stroke="#e2452f" stroke-width="0.9" fill="none"/>
<path d="M571.1 296.9V209H590.4V296.9" fill="none" stroke="#4b58b0" stroke-width="1"/>
<line x1="580.75" y1="206.5" x2="580.75" y2="212.2" stroke="#4b58b0" stroke-width="1"/>
<line x1="575.45" y1="206.5" x2="586.05" y2="206.5" stroke="#4b58b0" stroke-width="1"/>
<line x1="575.45" y1="212.2" x2="586.05" y2="212.2" stroke="#4b58b0" stroke-width="1"/>
<circle cx="572.9" cy="208.2" r="2.3" stroke="#4b58b0" stroke-width="0.9" fill="none"/>
<circle cx="580.4" cy="207.2" r="2.3" stroke="#4b58b0" stroke-width="0.9" fill="none"/>
<circle cx="588.4" cy="205.2" r="2.3" stroke="#4b58b0" stroke-width="0.9" fill="none"/>
<circle cx="587.9" cy="209.5" r="2.3" stroke="#4b58b0" stroke-width="0.9" fill="none"/>
<circle cx="580.4" cy="220.5" r="2.3" stroke="#4b58b0" stroke-width="0.9" fill="none"/>
<path d="M599.7 296.9V208.2H618.8V296.9" fill="none" stroke="#e2452f" stroke-width="1"/>
<line x1="609.25" y1="205.2" x2="609.25" y2="211.5" stroke="#e2452f" stroke-width="1"/>
<line x1="603.95" y1="205.2" x2="614.55" y2="205.2" stroke="#e2452f" stroke-width="1"/>
<line x1="603.95" y1="211.5" x2="614.55" y2="211.5" stroke="#e2452f" stroke-width="1"/>
<circle cx="609.5" cy="202" r="2.3" stroke="#e2452f" stroke-width="0.9" fill="none"/>
<circle cx="601.7" cy="206" r="2.3" stroke="#e2452f" stroke-width="0.9" fill="none"/>
<circle cx="616.8" cy="207" r="2.3" stroke="#e2452f" stroke-width="0.9" fill="none"/>
<circle cx="609.5" cy="210.7" r="2.3" stroke="#e2452f" stroke-width="0.9" fill="none"/>
<circle cx="609.5" cy="216.5" r="2.3" stroke="#e2452f" stroke-width="0.9" fill="none"/>
<line x1="452.2" y1="296.9" x2="452.2" y2="299.6" stroke="#474747" stroke-width="1"/>
<text x="452.2" y="309" fill="#231f20" text-anchor="middle" style="font-size:9.3px;" stroke="#231f20" stroke-width="0.22">SH</text>
<line x1="523.9" y1="296.9" x2="523.9" y2="299.6" stroke="#474747" stroke-width="1"/>
<text x="523.9" y="309" fill="#231f20" text-anchor="middle" style="font-size:9.3px;" stroke="#231f20" stroke-width="0.22">AITC</text>
<line x1="595" y1="296.9" x2="595" y2="299.6" stroke="#474747" stroke-width="1"/>
<text x="595" y="309" fill="#231f20" text-anchor="middle" style="font-size:9.3px;" stroke="#231f20" stroke-width="0.22">KCl</text>
<path d="M435.5 257.4V248.3H468.9V273.5" stroke="#474747" stroke-width="1" fill="none"/>
<text x="451.6" y="249.2" fill="#231f20" text-anchor="middle" style="font-size:13px;" stroke="#231f20" stroke-width="0.35">**</text>
<path d="M507.1 240.9V232H540.6V261.7" stroke="#474747" stroke-width="1" fill="none"/>
<text x="523.4" y="232.4" fill="#231f20" text-anchor="middle" style="font-size:13px;" stroke="#231f20" stroke-width="0.35">*</text>
<line x1="574.8" y1="189.5" x2="607.8" y2="189.5" stroke="#474747" stroke-width="1"/>
<text x="591.8" y="185.7" fill="#231f20" text-anchor="middle" style="font-size:9.7px;" stroke="#231f20" stroke-width="0.22">n.s.</text>
<text x="2" y="360" fill="#231f20" text-anchor="start" style="font-size:16px;" stroke="#231f20" stroke-width="0.22">d</text>
<line x1="50.2" y1="379.8" x2="50.2" y2="498.8" stroke="#474747" stroke-width="1"/>
<line x1="49.7" y1="498.3" x2="169" y2="498.3" stroke="#474747" stroke-width="1"/>
<line x1="46.7" y1="380.3" x2="50.2" y2="380.3" stroke="#474747" stroke-width="1"/>
<text x="45.5" y="383.85" fill="#231f20" text-anchor="end" style="font-size:10.0px;" stroke="#231f20" stroke-width="0.22">0.6</text>
<line x1="46.7" y1="419.4" x2="50.2" y2="419.4" stroke="#474747" stroke-width="1"/>
<text x="45.5" y="422.95" fill="#231f20" text-anchor="end" style="font-size:10.0px;" stroke="#231f20" stroke-width="0.22">0.4</text>
<line x1="46.7" y1="459.1" x2="50.2" y2="459.1" stroke="#474747" stroke-width="1"/>
<text x="45.5" y="462.65000000000003" fill="#231f20" text-anchor="end" style="font-size:10.0px;" stroke="#231f20" stroke-width="0.22">0.2</text>
<line x1="46.7" y1="498.3" x2="50.2" y2="498.3" stroke="#474747" stroke-width="1"/>
<text x="45.5" y="501.85" fill="#231f20" text-anchor="end" style="font-size:10.0px;" stroke="#231f20" stroke-width="0.22">0.0</text>
<text x="28.2" y="437.4" fill="#231f20" text-anchor="middle" style="font-size:12.1px;" transform="rotate(-90 28.2 437.4)" stroke="#231f20" stroke-width="0.22">Test solution / Total intake</text>
<path d="M62.4 498.3V400.4H85.6V498.3" fill="none" stroke="#231f20" stroke-width="0.95"/>
<line x1="74.0" y1="396.7" x2="74.0" y2="404.7" stroke="#231f20" stroke-width="1"/>
<line x1="67.5" y1="396.7" x2="80.5" y2="396.7" stroke="#231f20" stroke-width="1"/>
<line x1="67.5" y1="404.7" x2="80.5" y2="404.7" stroke="#231f20" stroke-width="1"/>
<circle cx="65.8" cy="393" r="2.15" stroke="#231f20" stroke-width="1.0" fill="none"/>
<circle cx="73.7" cy="393.9" r="2.15" stroke="#231f20" stroke-width="1.0" fill="none"/>
<circle cx="81.7" cy="390.2" r="2.15" stroke="#231f20" stroke-width="1.0" fill="none"/>
<circle cx="65.8" cy="400.4" r="2.15" stroke="#231f20" stroke-width="1.0" fill="none"/>
<circle cx="82.2" cy="403" r="2.15" stroke="#231f20" stroke-width="1.0" fill="none"/>
<circle cx="73.7" cy="405.8" r="2.15" stroke="#231f20" stroke-width="1.0" fill="none"/>
<circle cx="73.7" cy="417.4" r="2.15" stroke="#231f20" stroke-width="1.0" fill="none"/>
<path d="M97.6 498.3V423.4H121.1V498.3" fill="none" stroke="#e2452f" stroke-width="0.95"/>
<line x1="109.3" y1="415.2" x2="109.3" y2="431.3" stroke="#e2452f" stroke-width="1"/>
<line x1="102.8" y1="415.2" x2="115.8" y2="415.2" stroke="#e2452f" stroke-width="1"/>
<line x1="102.8" y1="431.3" x2="115.8" y2="431.3" stroke="#e2452f" stroke-width="1"/>
<circle cx="109.2" cy="390.2" r="2.15" stroke="#e2452f" stroke-width="1.0" fill="none"/>
<circle cx="109.2" cy="405.8" r="2.15" stroke="#e2452f" stroke-width="1.0" fill="none"/>
<circle cx="109.2" cy="422.2" r="2.15" stroke="#e2452f" stroke-width="1.0" fill="none"/>
<circle cx="113.4" cy="428.8" r="2.15" stroke="#e2452f" stroke-width="1.0" fill="none"/>
<circle cx="105.5" cy="430.8" r="2.15" stroke="#e2452f" stroke-width="1.0" fill="none"/>
<circle cx="109.2" cy="435" r="2.15" stroke="#e2452f" stroke-width="1.0" fill="none"/>
<circle cx="109.2" cy="460.5" r="2.15" stroke="#e2452f" stroke-width="1.0" fill="none"/>
<path d="M133.3 498.3V429.3H156.6V498.3" fill="none" stroke="#a3281f" stroke-width="0.95"/>
<line x1="144.9" y1="424.2" x2="144.9" y2="434.2" stroke="#a3281f" stroke-width="1"/>
<line x1="138.4" y1="424.2" x2="151.4" y2="424.2" stroke="#a3281f" stroke-width="1"/>
<line x1="138.4" y1="434.2" x2="151.4" y2="434.2" stroke="#a3281f" stroke-width="1"/>
<circle cx="144.9" cy="408.6" r="2.15" stroke="#a3281f" stroke-width="1.0" fill="none"/>
<circle cx="144.9" cy="418.6" r="2.15" stroke="#a3281f" stroke-width="1.0" fill="none"/>
<circle cx="141" cy="424.2" r="2.15" stroke="#a3281f" stroke-width="1.0" fill="none"/>
<circle cx="148.9" cy="424.2" r="2.15" stroke="#a3281f" stroke-width="1.0" fill="none"/>
<circle cx="141" cy="431.3" r="2.15" stroke="#a3281f" stroke-width="1.0" fill="none"/>
<circle cx="148.9" cy="431.3" r="2.15" stroke="#a3281f" stroke-width="1.0" fill="none"/>
<circle cx="144.9" cy="444.4" r="2.15" stroke="#a3281f" stroke-width="1.0" fill="none"/>
<circle cx="144.9" cy="455.4" r="2.15" stroke="#a3281f" stroke-width="1.0" fill="none"/>
<line x1="73.7" y1="498.3" x2="73.7" y2="501.5" stroke="#474747" stroke-width="1"/>
<text x="77.2" y="511.3" fill="#231f20" text-anchor="end" style="font-size:10.1px;" transform="rotate(-45 77.2 511.3)" stroke="#231f20" stroke-width="0.22">Water</text>
<line x1="109.2" y1="498.3" x2="109.2" y2="501.5" stroke="#474747" stroke-width="1"/>
<text x="114.1" y="509.9" fill="#231f20" text-anchor="end" style="font-size:10.1px;" transform="rotate(-45 114.1 509.9)" stroke="#231f20" stroke-width="0.22">500 µM SH</text>
<line x1="144.9" y1="498.3" x2="144.9" y2="501.5" stroke="#474747" stroke-width="1"/>
<text x="147.8" y="509.3" fill="#231f20" text-anchor="end" style="font-size:10.1px;" transform="rotate(-45 147.8 509.3)" stroke="#231f20" stroke-width="0.22">1000 µM SH</text>
<path d="M73.5 384.6V380.4H109.5V384.6" stroke="#474747" stroke-width="1" fill="none"/>
<text x="92.5" y="382.0" fill="#231f20" text-anchor="middle" style="font-size:13.6px;" stroke="#231f20" stroke-width="0.35">*</text>
<path d="M73.5 375.6V363.6H145V403" stroke="#474747" stroke-width="1" fill="none"/>
<text x="109" y="362.1" fill="#231f20" text-anchor="middle" style="font-size:13.6px;" stroke="#231f20" stroke-width="0.35">**</text>
<text x="175.8" y="359.5" fill="#231f20" text-anchor="start" style="font-size:16px;" stroke="#231f20" stroke-width="0.22">e</text>
<line x1="221.6" y1="380.1" x2="221.6" y2="498.8" stroke="#474747" stroke-width="1"/>
<line x1="221.1" y1="498.3" x2="342" y2="498.3" stroke="#474747" stroke-width="1"/>
<line x1="218.1" y1="380.6" x2="221.6" y2="380.6" stroke="#474747" stroke-width="1"/>
<text x="216.9" y="384.15000000000003" fill="#231f20" text-anchor="end" style="font-size:10.0px;" stroke="#231f20" stroke-width="0.22">0.8</text>
<line x1="218.1" y1="410" x2="221.6" y2="410" stroke="#474747" stroke-width="1"/>
<text x="216.9" y="413.55" fill="#231f20" text-anchor="end" style="font-size:10.0px;" stroke="#231f20" stroke-width="0.22">0.6</text>
<line x1="218.1" y1="439.5" x2="221.6" y2="439.5" stroke="#474747" stroke-width="1"/>
<text x="216.9" y="443.05" fill="#231f20" text-anchor="end" style="font-size:10.0px;" stroke="#231f20" stroke-width="0.22">0.4</text>
<line x1="218.1" y1="469" x2="221.6" y2="469" stroke="#474747" stroke-width="1"/>
<text x="216.9" y="472.55" fill="#231f20" text-anchor="end" style="font-size:10.0px;" stroke="#231f20" stroke-width="0.22">0.2</text>
<line x1="218.1" y1="498.3" x2="221.6" y2="498.3" stroke="#474747" stroke-width="1"/>
<text x="216.9" y="501.85" fill="#231f20" text-anchor="end" style="font-size:10.0px;" stroke="#231f20" stroke-width="0.22">0.0</text>
<text x="199.1" y="439.3" fill="#231f20" text-anchor="middle" style="font-size:12.1px;" transform="rotate(-90 199.1 439.3)" stroke="#231f20" stroke-width="0.22">Test solution / Total intake</text>
<path d="M234.4 498.3V425.1H257.4V498.3" fill="none" stroke="#231f20" stroke-width="0.95"/>
<line x1="245.9" y1="421.4" x2="245.9" y2="429.3" stroke="#231f20" stroke-width="1"/>
<line x1="239.4" y1="421.4" x2="252.4" y2="421.4" stroke="#231f20" stroke-width="1"/>
<line x1="239.4" y1="429.3" x2="252.4" y2="429.3" stroke="#231f20" stroke-width="1"/>
<circle cx="241.8" cy="413.2" r="2.15" stroke="#231f20" stroke-width="1.0" fill="none"/>
<circle cx="250" cy="412.3" r="2.15" stroke="#231f20" stroke-width="1.0" fill="none"/>
<circle cx="238.1" cy="420" r="2.15" stroke="#231f20" stroke-width="1.0" fill="none"/>
<circle cx="245.7" cy="423.1" r="2.15" stroke="#231f20" stroke-width="1.0" fill="none"/>
<circle cx="253.7" cy="422.2" r="2.15" stroke="#231f20" stroke-width="1.0" fill="none"/>
<circle cx="245.7" cy="429.3" r="2.15" stroke="#231f20" stroke-width="1.0" fill="none"/>
<circle cx="241.8" cy="442.1" r="2.15" stroke="#231f20" stroke-width="1.0" fill="none"/>
<circle cx="250" cy="439.8" r="2.15" stroke="#231f20" stroke-width="1.0" fill="none"/>
<path d="M270.1 498.3V425.9H293.4V498.3" fill="none" stroke="#e2452f" stroke-width="0.95"/>
<line x1="281.8" y1="420.8" x2="281.8" y2="431.3" stroke="#e2452f" stroke-width="1"/>
<line x1="275.3" y1="420.8" x2="288.3" y2="420.8" stroke="#e2452f" stroke-width="1"/>
<line x1="275.3" y1="431.3" x2="288.3" y2="431.3" stroke="#e2452f" stroke-width="1"/>
<circle cx="282" cy="410.3" r="2.15" stroke="#e2452f" stroke-width="1.0" fill="none"/>
<circle cx="274.1" cy="415.2" r="2.15" stroke="#e2452f" stroke-width="1.0" fill="none"/>
<circle cx="290" cy="418" r="2.15" stroke="#e2452f" stroke-width="1.0" fill="none"/>
<circle cx="282" cy="422.2" r="2.15" stroke="#e2452f" stroke-width="1.0" fill="none"/>
<circle cx="277.8" cy="425.1" r="2.15" stroke="#e2452f" stroke-width="1.0" fill="none"/>
<circle cx="290" cy="425.1" r="2.15" stroke="#e2452f" stroke-width="1.0" fill="none"/>
<circle cx="282" cy="439.3" r="2.15" stroke="#e2452f" stroke-width="1.0" fill="none"/>
<circle cx="282" cy="453.4" r="2.15" stroke="#e2452f" stroke-width="1.0" fill="none"/>
<path d="M305.8 498.3V425.9H329.4V498.3" fill="none" stroke="#a3281f" stroke-width="0.95"/>
<line x1="317.6" y1="421.4" x2="317.6" y2="430.8" stroke="#a3281f" stroke-width="1"/>
<line x1="311.1" y1="421.4" x2="324.1" y2="421.4" stroke="#a3281f" stroke-width="1"/>
<line x1="311.1" y1="430.8" x2="324.1" y2="430.8" stroke="#a3281f" stroke-width="1"/>
<circle cx="317.5" cy="408.6" r="2.15" stroke="#a3281f" stroke-width="1.0" fill="none"/>
<circle cx="313.8" cy="413.7" r="2.15" stroke="#a3281f" stroke-width="1.0" fill="none"/>
<circle cx="321.7" cy="413.7" r="2.15" stroke="#a3281f" stroke-width="1.0" fill="none"/>
<circle cx="309.8" cy="430.2" r="2.15" stroke="#a3281f" stroke-width="1.0" fill="none"/>
<circle cx="317.5" cy="428.5" r="2.15" stroke="#a3281f" stroke-width="1.0" fill="none"/>
<circle cx="325.4" cy="430.2" r="2.15" stroke="#a3281f" stroke-width="1.0" fill="none"/>
<circle cx="313.8" cy="443.5" r="2.15" stroke="#a3281f" stroke-width="1.0" fill="none"/>
<circle cx="321.7" cy="442.1" r="2.15" stroke="#a3281f" stroke-width="1.0" fill="none"/>
<line x1="245.7" y1="498.3" x2="245.7" y2="501.5" stroke="#474747" stroke-width="1"/>
<text x="249.2" y="510.8" fill="#231f20" text-anchor="end" style="font-size:10.1px;" transform="rotate(-45 249.2 510.8)" stroke="#231f20" stroke-width="0.22">Water</text>
<line x1="282" y1="498.3" x2="282" y2="501.5" stroke="#474747" stroke-width="1"/>
<text x="286.1" y="509.3" fill="#231f20" text-anchor="end" style="font-size:10.1px;" transform="rotate(-45 286.1 509.3)" stroke="#231f20" stroke-width="0.22">500 µM SH</text>
<line x1="317.8" y1="498.3" x2="317.8" y2="501.5" stroke="#474747" stroke-width="1"/>
<text x="319.9" y="509.3" fill="#231f20" text-anchor="end" style="font-size:10.1px;" transform="rotate(-45 319.9 509.3)" stroke="#231f20" stroke-width="0.22">1000 µM SH</text>
<path d="M245.7 404.4V399.6H282V404.4" stroke="#474747" stroke-width="1" fill="none"/>
<text x="264.2" y="393.6" fill="#231f20" text-anchor="middle" style="font-size:9.7px;" stroke="#231f20" stroke-width="0.22">n.s.</text>
<path d="M245.7 394.7V382.5H317.8V403.8" stroke="#474747" stroke-width="1" fill="none"/>
<text x="278.6" y="376.6" fill="#231f20" text-anchor="middle" style="font-size:9.7px;" stroke="#231f20" stroke-width="0.22">n.s.</text>
<text x="345.8" y="360" fill="#231f20" text-anchor="start" style="font-size:16px;" stroke="#231f20" stroke-width="0.22">f</text>
<line x1="393.2" y1="385.5" x2="393.2" y2="498.8" stroke="#474747" stroke-width="1"/>
<line x1="392.7" y1="498.3" x2="505.5" y2="498.3" stroke="#474747" stroke-width="1"/>
<line x1="389.7" y1="386" x2="393.2" y2="386" stroke="#474747" stroke-width="1"/>
<text x="388.5" y="389.55" fill="#231f20" text-anchor="end" style="font-size:10.0px;" stroke="#231f20" stroke-width="0.22">0.6</text>
<line x1="389.7" y1="423.4" x2="393.2" y2="423.4" stroke="#474747" stroke-width="1"/>
<text x="388.5" y="426.95" fill="#231f20" text-anchor="end" style="font-size:10.0px;" stroke="#231f20" stroke-width="0.22">0.4</text>
<line x1="389.7" y1="460.8" x2="393.2" y2="460.8" stroke="#474747" stroke-width="1"/>
<text x="388.5" y="464.35" fill="#231f20" text-anchor="end" style="font-size:10.0px;" stroke="#231f20" stroke-width="0.22">0.2</text>
<line x1="389.7" y1="498.3" x2="393.2" y2="498.3" stroke="#474747" stroke-width="1"/>
<text x="388.5" y="501.85" fill="#231f20" text-anchor="end" style="font-size:10.0px;" stroke="#231f20" stroke-width="0.22">0.0</text>
<text x="372.2" y="440.8" fill="#231f20" text-anchor="middle" style="font-size:11.8px;" transform="rotate(-90 372.2 440.8)" stroke="#231f20" stroke-width="0.22">Test solution / Total intake</text>
<path d="M404 498.3V406.1H426.7V498.3" fill="none" stroke="#231f20" stroke-width="0.95"/>
<line x1="415.4" y1="403" x2="415.4" y2="408.9" stroke="#231f20" stroke-width="1"/>
<line x1="408.9" y1="403" x2="421.9" y2="403" stroke="#231f20" stroke-width="1"/>
<line x1="408.9" y1="408.9" x2="421.9" y2="408.9" stroke="#231f20" stroke-width="1"/>
<circle cx="415.3" cy="393.9" r="2.15" stroke="#231f20" stroke-width="1.0" fill="none"/>
<circle cx="407.7" cy="400.1" r="2.15" stroke="#231f20" stroke-width="1.0" fill="none"/>
<circle cx="415.3" cy="400.4" r="2.15" stroke="#231f20" stroke-width="1.0" fill="none"/>
<circle cx="423.3" cy="400.4" r="2.15" stroke="#231f20" stroke-width="1.0" fill="none"/>
<circle cx="411.1" cy="410.9" r="2.15" stroke="#231f20" stroke-width="1.0" fill="none"/>
<circle cx="423.3" cy="410.9" r="2.15" stroke="#231f20" stroke-width="1.0" fill="none"/>
<circle cx="419" cy="414.3" r="2.15" stroke="#231f20" stroke-width="1.0" fill="none"/>
<circle cx="415.3" cy="422.2" r="2.15" stroke="#231f20" stroke-width="1.0" fill="none"/>
<path d="M437.6 498.3V491.2H460.3V498.3" fill="none" stroke="#e2452f" stroke-width="0.95"/>
<line x1="449.0" y1="490.3" x2="449.0" y2="492.1" stroke="#e2452f" stroke-width="1"/>
<line x1="442.5" y1="490.3" x2="455.5" y2="490.3" stroke="#e2452f" stroke-width="1"/>
<line x1="442.5" y1="492.1" x2="455.5" y2="492.1" stroke="#e2452f" stroke-width="1"/>
<circle cx="439.7" cy="492.3" r="2.15" stroke="#e2452f" stroke-width="1.0" fill="none"/>
<circle cx="443.3" cy="488.9" r="2.15" stroke="#e2452f" stroke-width="1.0" fill="none"/>
<circle cx="446.9" cy="491.8" r="2.15" stroke="#e2452f" stroke-width="1.0" fill="none"/>
<circle cx="451" cy="488.9" r="2.15" stroke="#e2452f" stroke-width="1.0" fill="none"/>
<circle cx="454.5" cy="492.7" r="2.15" stroke="#e2452f" stroke-width="1.0" fill="none"/>
<circle cx="458.6" cy="490.3" r="2.15" stroke="#e2452f" stroke-width="1.0" fill="none"/>
<path d="M471.3 498.3V492.6H493.9V498.3" fill="none" stroke="#a3281f" stroke-width="0.95"/>
<line x1="482.6" y1="491.6" x2="482.6" y2="493.6" stroke="#a3281f" stroke-width="1"/>
<line x1="476.1" y1="491.6" x2="489.1" y2="491.6" stroke="#a3281f" stroke-width="1"/>
<line x1="476.1" y1="493.6" x2="489.1" y2="493.6" stroke="#a3281f" stroke-width="1"/>
<circle cx="473.4" cy="489.3" r="2.15" stroke="#a3281f" stroke-width="1.0" fill="none"/>
<circle cx="473.4" cy="495.3" r="2.15" stroke="#a3281f" stroke-width="1.0" fill="none"/>
<circle cx="479.6" cy="492.4" r="2.15" stroke="#a3281f" stroke-width="1.0" fill="none"/>
<circle cx="482.6" cy="492.4" r="2.15" stroke="#a3281f" stroke-width="1.0" fill="none"/>
<circle cx="485.7" cy="488.4" r="2.15" stroke="#a3281f" stroke-width="1.0" fill="none"/>
<circle cx="485.7" cy="494.4" r="2.15" stroke="#a3281f" stroke-width="1.0" fill="none"/>
<circle cx="492.3" cy="493.2" r="2.15" stroke="#a3281f" stroke-width="1.0" fill="none"/>
<line x1="415.3" y1="498.3" x2="415.3" y2="501.5" stroke="#474747" stroke-width="1"/>
<text x="418.4" y="511.3" fill="#231f20" text-anchor="end" style="font-size:10.1px;" transform="rotate(-45 418.4 511.3)" stroke="#231f20" stroke-width="0.22">Water</text>
<line x1="448.8" y1="498.3" x2="448.8" y2="501.5" stroke="#474747" stroke-width="1"/>
<text x="457.3" y="508.3" fill="#231f20" text-anchor="end" style="font-size:10.1px;" transform="rotate(-45 457.3 508.3)" stroke="#231f20" stroke-width="0.22">200 µM AITC</text>
<line x1="482.8" y1="498.3" x2="482.8" y2="501.5" stroke="#474747" stroke-width="1"/>
<text x="490.3" y="507.5" fill="#231f20" text-anchor="end" style="font-size:10.1px;" transform="rotate(-45 490.3 507.5)" stroke="#231f20" stroke-width="0.22">1000 µM AITC</text>
<path d="M415.3 389V384.7H448.9V484.6" stroke="#474747" stroke-width="1" fill="none"/>
<text x="434.1" y="386.5" fill="#231f20" text-anchor="middle" style="font-size:13.6px;" stroke="#231f20" stroke-width="0.35">****</text>
<path d="M415.3 380.4V369H482.8V483.8" stroke="#474747" stroke-width="1" fill="none"/>
<text x="448.9" y="369.0" fill="#231f20" text-anchor="middle" style="font-size:13.6px;" stroke="#231f20" stroke-width="0.35">****</text>
<text x="516.4" y="360" fill="#231f20" text-anchor="start" style="font-size:16px;" stroke="#231f20" stroke-width="0.22">g</text>
<line x1="566.9" y1="382.0" x2="566.9" y2="498.8" stroke="#474747" stroke-width="1"/>
<line x1="566.4" y1="498.3" x2="683.5" y2="498.3" stroke="#474747" stroke-width="1"/>
<line x1="563.4" y1="382.5" x2="566.9" y2="382.5" stroke="#474747" stroke-width="1"/>
<text x="562.1999999999999" y="386.05" fill="#231f20" text-anchor="end" style="font-size:10.0px;" stroke="#231f20" stroke-width="0.22">0.8</text>
<line x1="563.4" y1="411.5" x2="566.9" y2="411.5" stroke="#474747" stroke-width="1"/>
<text x="562.1999999999999" y="415.05" fill="#231f20" text-anchor="end" style="font-size:10.0px;" stroke="#231f20" stroke-width="0.22">0.6</text>
<line x1="563.4" y1="440.1" x2="566.9" y2="440.1" stroke="#474747" stroke-width="1"/>
<text x="562.1999999999999" y="443.65000000000003" fill="#231f20" text-anchor="end" style="font-size:10.0px;" stroke="#231f20" stroke-width="0.22">0.4</text>
<line x1="563.4" y1="469" x2="566.9" y2="469" stroke="#474747" stroke-width="1"/>
<text x="562.1999999999999" y="472.55" fill="#231f20" text-anchor="end" style="font-size:10.0px;" stroke="#231f20" stroke-width="0.22">0.2</text>
<line x1="563.4" y1="498.3" x2="566.9" y2="498.3" stroke="#474747" stroke-width="1"/>
<text x="562.1999999999999" y="501.85" fill="#231f20" text-anchor="end" style="font-size:10.0px;" stroke="#231f20" stroke-width="0.22">0.0</text>
<text x="544.4" y="441.1" fill="#231f20" text-anchor="middle" style="font-size:11.8px;" transform="rotate(-90 544.4 441.1)" stroke="#231f20" stroke-width="0.22">Test solution / Total intake</text>
<path d="M578.8 498.3V425.9H601.8V498.3" fill="none" stroke="#231f20" stroke-width="0.95"/>
<line x1="590.3" y1="420.8" x2="590.3" y2="431.3" stroke="#231f20" stroke-width="1"/>
<line x1="583.8" y1="420.8" x2="596.8" y2="420.8" stroke="#231f20" stroke-width="1"/>
<line x1="583.8" y1="431.3" x2="596.8" y2="431.3" stroke="#231f20" stroke-width="1"/>
<circle cx="586.7" cy="410.9" r="2.15" stroke="#231f20" stroke-width="1.0" fill="none"/>
<circle cx="594.4" cy="413.2" r="2.15" stroke="#231f20" stroke-width="1.0" fill="none"/>
<circle cx="586.7" cy="420" r="2.15" stroke="#231f20" stroke-width="1.0" fill="none"/>
<circle cx="594.4" cy="420.8" r="2.15" stroke="#231f20" stroke-width="1.0" fill="none"/>
<circle cx="590.4" cy="430.2" r="2.15" stroke="#231f20" stroke-width="1.0" fill="none"/>
<circle cx="590.4" cy="434.2" r="2.15" stroke="#231f20" stroke-width="1.0" fill="none"/>
<circle cx="590.4" cy="450" r="2.15" stroke="#231f20" stroke-width="1.0" fill="none"/>
<path d="M613.7 498.3V475H636.9V498.3" fill="none" stroke="#e2452f" stroke-width="0.95"/>
<line x1="625.3" y1="465.6" x2="625.3" y2="484.6" stroke="#e2452f" stroke-width="1"/>
<line x1="618.8" y1="465.6" x2="631.8" y2="465.6" stroke="#e2452f" stroke-width="1"/>
<line x1="618.8" y1="484.6" x2="631.8" y2="484.6" stroke="#e2452f" stroke-width="1"/>
<circle cx="625.3" cy="431.3" r="2.15" stroke="#e2452f" stroke-width="1.0" fill="none"/>
<circle cx="625.3" cy="470.5" r="2.15" stroke="#e2452f" stroke-width="1.0" fill="none"/>
<circle cx="617.4" cy="482.7" r="2.15" stroke="#e2452f" stroke-width="1.0" fill="none"/>
<circle cx="625.3" cy="486.1" r="2.15" stroke="#e2452f" stroke-width="1.0" fill="none"/>
<circle cx="633" cy="484.1" r="2.15" stroke="#e2452f" stroke-width="1.0" fill="none"/>
<circle cx="625.3" cy="494" r="2.15" stroke="#e2452f" stroke-width="1.0" fill="none"/>
<path d="M648.6 498.3V494.6H671.8V498.3" fill="none" stroke="#a3281f" stroke-width="0.95"/>
<line x1="660.2" y1="493.4" x2="660.2" y2="495.8" stroke="#a3281f" stroke-width="1"/>
<line x1="653.7" y1="493.4" x2="666.7" y2="493.4" stroke="#a3281f" stroke-width="1"/>
<line x1="653.7" y1="495.8" x2="666.7" y2="495.8" stroke="#a3281f" stroke-width="1"/>
<circle cx="659.9" cy="487.5" r="2.15" stroke="#a3281f" stroke-width="1.0" fill="none"/>
<circle cx="654.8" cy="492.3" r="2.15" stroke="#a3281f" stroke-width="1.0" fill="none"/>
<circle cx="664.7" cy="493.1" r="2.15" stroke="#a3281f" stroke-width="1.0" fill="none"/>
<circle cx="650.6" cy="495.1" r="2.15" stroke="#a3281f" stroke-width="1.0" fill="none"/>
<circle cx="657.7" cy="494.6" r="2.15" stroke="#a3281f" stroke-width="1.0" fill="none"/>
<circle cx="669" cy="495.4" r="2.15" stroke="#a3281f" stroke-width="1.0" fill="none"/>
<line x1="590.4" y1="498.3" x2="590.4" y2="501.5" stroke="#474747" stroke-width="1"/>
<text x="591.9" y="510.8" fill="#231f20" text-anchor="end" style="font-size:10.1px;" transform="rotate(-45 591.9 510.8)" stroke="#231f20" stroke-width="0.22">Water</text>
<line x1="625.6" y1="498.3" x2="625.6" y2="501.5" stroke="#474747" stroke-width="1"/>
<text x="631.1" y="508.7" fill="#231f20" text-anchor="end" style="font-size:10.1px;" transform="rotate(-45 631.1 508.7)" stroke="#231f20" stroke-width="0.22">200 µM AITC</text>
<line x1="660.5" y1="498.3" x2="660.5" y2="501.5" stroke="#474747" stroke-width="1"/>
<text x="664.4" y="508.3" fill="#231f20" text-anchor="end" style="font-size:10.1px;" transform="rotate(-45 664.4 508.3)" stroke="#231f20" stroke-width="0.22">1000 µM AITC</text>
<path d="M590.3 406.6V402.5H625.7V425.1" stroke="#474747" stroke-width="1" fill="none"/>
<text x="608.7" y="403.3" fill="#231f20" text-anchor="middle" style="font-size:13.6px;" stroke="#231f20" stroke-width="0.35">****</text>
<path d="M590.3 396.8V385.4H660.1V481.8" stroke="#474747" stroke-width="1" fill="none"/>
<text x="626.8" y="386.8" fill="#231f20" text-anchor="middle" style="font-size:13.6px;" stroke="#231f20" stroke-width="0.35">****</text>
<text x="4" y="581" fill="#231f20" text-anchor="start" style="font-size:16px;" stroke="#231f20" stroke-width="0.22">h</text>
<text x="158" y="581" fill="#231f20" text-anchor="start" style="font-size:16px;" stroke="#231f20" stroke-width="0.22">i</text>
<line x1="74.2" y1="623.1" x2="74.2" y2="738.8" stroke="#474747" stroke-width="1"/>
<line x1="73.7" y1="738.3" x2="144" y2="738.3" stroke="#474747" stroke-width="1"/>
<line x1="70.7" y1="623.6" x2="74.2" y2="623.6" stroke="#474747" stroke-width="1"/>
<text x="69.5" y="627.15" fill="#231f20" text-anchor="end" style="font-size:10.0px;" stroke="#231f20" stroke-width="0.22">0.00015</text>
<line x1="70.7" y1="661.7" x2="74.2" y2="661.7" stroke="#474747" stroke-width="1"/>
<text x="69.5" y="665.25" fill="#231f20" text-anchor="end" style="font-size:10.0px;" stroke="#231f20" stroke-width="0.22">0.00010</text>
<line x1="70.7" y1="700.1" x2="74.2" y2="700.1" stroke="#474747" stroke-width="1"/>
<text x="69.5" y="703.65" fill="#231f20" text-anchor="end" style="font-size:10.0px;" stroke="#231f20" stroke-width="0.22">0.00005</text>
<line x1="70.7" y1="738.3" x2="74.2" y2="738.3" stroke="#474747" stroke-width="1"/>
<text x="69.5" y="741.8499999999999" fill="#231f20" text-anchor="end" style="font-size:10.0px;" stroke="#231f20" stroke-width="0.22">0.00000</text>
<text x="24.4" y="686.3" fill="#231f20" text-anchor="middle" style="font-size:11.9px;" transform="rotate(-90 24.4 686.3)" stroke="#231f20" stroke-width="0.22">Ratio of <tspan font-style="italic">TRPA1/GAPDH</tspan> mRNA</text>
<path d="M84.4 738.3V737.4H103.3V738.3" fill="none" stroke="#3a3a3a" stroke-width="0.95"/>
<circle cx="85.9" cy="737.3" r="1.5" stroke="#3a3a3a" stroke-width="1.0" fill="none"/>
<circle cx="88.8" cy="736.4" r="1.5" stroke="#3a3a3a" stroke-width="1.0" fill="none"/>
<circle cx="91.7" cy="737.3" r="1.5" stroke="#3a3a3a" stroke-width="1.0" fill="none"/>
<circle cx="94.6" cy="736.4" r="1.5" stroke="#3a3a3a" stroke-width="1.0" fill="none"/>
<circle cx="97.5" cy="737.3" r="1.5" stroke="#3a3a3a" stroke-width="1.0" fill="none"/>
<circle cx="100.4" cy="737.3" r="1.5" stroke="#3a3a3a" stroke-width="1.0" fill="none"/>
<circle cx="96.9" cy="734.5" r="1.5" stroke="#3a3a3a" stroke-width="1.0" fill="none"/>
<circle cx="102.4" cy="737.6" r="1.5" stroke="#3a3a3a" stroke-width="1.0" fill="none"/>
<path d="M114.1 738.3V701.6H133.3V738.3" fill="none" stroke="#7a7a7a" stroke-width="0.95"/>
<line x1="93.1" y1="738.3" x2="93.1" y2="741.5" stroke="#474747" stroke-width="1"/>
<text x="96.6" y="750.3" fill="#231f20" text-anchor="end" style="font-size:10.1px;" transform="rotate(-45 96.6 750.3)" stroke="#231f20" stroke-width="0.22">Tongue</text>
<line x1="123.7" y1="738.3" x2="123.7" y2="741.5" stroke="#474747" stroke-width="1"/>
<text x="124.2" y="750.3" fill="#231f20" text-anchor="end" style="font-size:10.1px;" transform="rotate(-45 124.2 750.3)" stroke="#231f20" stroke-width="0.22">Nasal mucosa</text>
<circle cx="120.2" cy="655.9" r="1.7" stroke="#3a3a3a" stroke-width="0.8" fill="none"/>
<circle cx="126.9" cy="658" r="1.7" stroke="#3a3a3a" stroke-width="0.8" fill="none"/>
<circle cx="123.7" cy="692.9" r="1.7" stroke="#3a3a3a" stroke-width="0.8" fill="none"/>
<circle cx="120.2" cy="698.1" r="1.7" stroke="#3a3a3a" stroke-width="0.8" fill="none"/>
<circle cx="126.9" cy="700.7" r="1.7" stroke="#3a3a3a" stroke-width="0.8" fill="none"/>
<circle cx="123.7" cy="708.9" r="1.7" stroke="#3a3a3a" stroke-width="0.8" fill="none"/>
<circle cx="123.7" cy="717" r="1.7" stroke="#3a3a3a" stroke-width="0.8" fill="none"/>
<circle cx="120.2" cy="724.9" r="1.7" stroke="#3a3a3a" stroke-width="0.8" fill="none"/>
<circle cx="126.9" cy="725.8" r="1.7" stroke="#3a3a3a" stroke-width="0.8" fill="none"/>
<circle cx="123.7" cy="730.7" r="1.7" stroke="#3a3a3a" stroke-width="0.8" fill="none"/>
<line x1="123.7" y1="692.9" x2="123.7" y2="709.5" stroke="#3a3a3a" stroke-width="1"/>
<line x1="118.7" y1="692.9" x2="128.7" y2="692.9" stroke="#3a3a3a" stroke-width="1"/>
<line x1="118.7" y1="709.5" x2="128.7" y2="709.5" stroke="#3a3a3a" stroke-width="1"/>
<path d="M93.4 729.2V645.5H123.2V649.8" stroke="#474747" stroke-width="1" fill="none"/>
<text x="107.6" y="645.2" fill="#231f20" text-anchor="middle" style="font-size:13px;" stroke="#231f20" stroke-width="0.35">****</text>
<line x1="203" y1="634.7" x2="203" y2="738.8" stroke="#474747" stroke-width="1"/>
<line x1="202.5" y1="738.3" x2="301.5" y2="738.3" stroke="#474747" stroke-width="1"/>
<line x1="199.5" y1="635.2" x2="203" y2="635.2" stroke="#474747" stroke-width="1"/>
<text x="198.3" y="638.75" fill="#231f20" text-anchor="end" style="font-size:10.0px;" stroke="#231f20" stroke-width="0.22">0.8</text>
<line x1="199.5" y1="660.9" x2="203" y2="660.9" stroke="#474747" stroke-width="1"/>
<text x="198.3" y="664.4499999999999" fill="#231f20" text-anchor="end" style="font-size:10.0px;" stroke="#231f20" stroke-width="0.22">0.6</text>
<line x1="199.5" y1="686.5" x2="203" y2="686.5" stroke="#474747" stroke-width="1"/>
<text x="198.3" y="690.05" fill="#231f20" text-anchor="end" style="font-size:10.0px;" stroke="#231f20" stroke-width="0.22">0.4</text>
<line x1="199.5" y1="712.4" x2="203" y2="712.4" stroke="#474747" stroke-width="1"/>
<text x="198.3" y="715.9499999999999" fill="#231f20" text-anchor="end" style="font-size:10.0px;" stroke="#231f20" stroke-width="0.22">0.2</text>
<line x1="199.5" y1="738.3" x2="203" y2="738.3" stroke="#474747" stroke-width="1"/>
<text x="198.3" y="741.8499999999999" fill="#231f20" text-anchor="end" style="font-size:10.0px;" stroke="#231f20" stroke-width="0.22">0.0</text>
<text x="179.4" y="685.6" fill="#231f20" text-anchor="middle" style="font-size:11.9px;" transform="rotate(-90 179.4 685.6)" stroke="#231f20" stroke-width="0.22">Test solution / Total intake</text>
<path d="M213.4 738.3V674.5H232.4V738.3" fill="none" stroke="#231f20" stroke-width="0.95"/>
<line x1="222.9" y1="671" x2="222.9" y2="678.3" stroke="#231f20" stroke-width="1"/>
<line x1="217.4" y1="671" x2="228.4" y2="671" stroke="#231f20" stroke-width="1"/>
<line x1="217.4" y1="678.3" x2="228.4" y2="678.3" stroke="#231f20" stroke-width="1"/>
<circle cx="222.8" cy="662.3" r="2.0" stroke="#231f20" stroke-width="1.0" fill="none"/>
<circle cx="214.6" cy="669.6" r="2.0" stroke="#231f20" stroke-width="1.0" fill="none"/>
<circle cx="219" cy="671.6" r="2.0" stroke="#231f20" stroke-width="1.0" fill="none"/>
<circle cx="222.8" cy="671" r="2.0" stroke="#231f20" stroke-width="1.0" fill="none"/>
<circle cx="226.5" cy="671.6" r="2.0" stroke="#231f20" stroke-width="1.0" fill="none"/>
<circle cx="230.6" cy="671.9" r="2.0" stroke="#231f20" stroke-width="1.0" fill="none"/>
<circle cx="222.8" cy="697.2" r="2.0" stroke="#231f20" stroke-width="1.0" fill="none"/>
<path d="M242.5 738.3V676.3H262V738.3" fill="none" stroke="#e2452f" stroke-width="0.95"/>
<line x1="252.2" y1="674.5" x2="252.2" y2="678.3" stroke="#e2452f" stroke-width="1"/>
<line x1="246.7" y1="674.5" x2="257.7" y2="674.5" stroke="#e2452f" stroke-width="1"/>
<line x1="246.7" y1="678.3" x2="257.7" y2="678.3" stroke="#e2452f" stroke-width="1"/>
<circle cx="256.2" cy="669.6" r="2.0" stroke="#e2452f" stroke-width="1.0" fill="none"/>
<circle cx="250.4" cy="671.6" r="2.0" stroke="#e2452f" stroke-width="1.0" fill="none"/>
<circle cx="253.3" cy="673.1" r="2.0" stroke="#e2452f" stroke-width="1.0" fill="none"/>
<circle cx="244.6" cy="676" r="2.0" stroke="#e2452f" stroke-width="1.0" fill="none"/>
<circle cx="249" cy="676.9" r="2.0" stroke="#e2452f" stroke-width="1.0" fill="none"/>
<circle cx="256.2" cy="676.3" r="2.0" stroke="#e2452f" stroke-width="1.0" fill="none"/>
<circle cx="260" cy="677.4" r="2.0" stroke="#e2452f" stroke-width="1.0" fill="none"/>
<circle cx="251.9" cy="679.8" r="2.0" stroke="#e2452f" stroke-width="1.0" fill="none"/>
<circle cx="249" cy="682.1" r="2.0" stroke="#e2452f" stroke-width="1.0" fill="none"/>
<path d="M272.2 738.3V701.6H291.7V738.3" fill="none" stroke="#a3281f" stroke-width="0.95"/>
<line x1="281.9" y1="696.7" x2="281.9" y2="705.4" stroke="#a3281f" stroke-width="1"/>
<line x1="276.4" y1="696.7" x2="287.4" y2="696.7" stroke="#a3281f" stroke-width="1"/>
<line x1="276.4" y1="705.4" x2="287.4" y2="705.4" stroke="#a3281f" stroke-width="1"/>
<circle cx="279.5" cy="687.6" r="2.0" stroke="#a3281f" stroke-width="1.0" fill="none"/>
<circle cx="284.5" cy="686.2" r="2.0" stroke="#a3281f" stroke-width="1.0" fill="none"/>
<circle cx="279.5" cy="692.9" r="2.0" stroke="#a3281f" stroke-width="1.0" fill="none"/>
<circle cx="274.6" cy="700.7" r="2.0" stroke="#a3281f" stroke-width="1.0" fill="none"/>
<circle cx="279.5" cy="698.7" r="2.0" stroke="#a3281f" stroke-width="1.0" fill="none"/>
<circle cx="284.5" cy="701.6" r="2.0" stroke="#a3281f" stroke-width="1.0" fill="none"/>
<circle cx="279.5" cy="703.6" r="2.0" stroke="#a3281f" stroke-width="1.0" fill="none"/>
<circle cx="286.8" cy="703.6" r="2.0" stroke="#a3281f" stroke-width="1.0" fill="none"/>
<circle cx="289.7" cy="703.9" r="2.0" stroke="#a3281f" stroke-width="1.0" fill="none"/>
<circle cx="281.8" cy="732.2" r="2.0" stroke="#a3281f" stroke-width="1.0" fill="none"/>
<line x1="222.8" y1="738.3" x2="222.8" y2="741.5" stroke="#474747" stroke-width="1"/>
<text x="225.3" y="750.3" fill="#231f20" text-anchor="end" style="font-size:10.1px;" transform="rotate(-45 225.3 750.3)" stroke="#231f20" stroke-width="0.22">Water</text>
<line x1="252.4" y1="738.3" x2="252.4" y2="741.5" stroke="#474747" stroke-width="1"/>
<text x="254.3" y="749.7" fill="#231f20" text-anchor="end" style="font-size:10.1px;" transform="rotate(-45 254.3 749.7)" stroke="#231f20" stroke-width="0.22">1000 µM SH</text>
<line x1="281.8" y1="738.3" x2="281.8" y2="741.5" stroke="#474747" stroke-width="1"/>
<text x="283.3" y="751.3" fill="#231f20" text-anchor="end" style="font-size:10.1px;" transform="rotate(-45 283.3 751.3)" stroke="#231f20" stroke-width="0.22">200 µM AITC</text>
<path d="M222.8 657.9V653.6H252.4V665.2" stroke="#474747" stroke-width="1" fill="none"/>
<text x="239.6" y="648.8" fill="#231f20" text-anchor="middle" style="font-size:9.7px;" stroke="#231f20" stroke-width="0.22">n.s.</text>
<path d="M222.5 649.2V632.7H281.7V682.1" stroke="#474747" stroke-width="1" fill="none"/>
<text x="252" y="632.6" fill="#231f20" text-anchor="middle" style="font-size:13.4px;" stroke="#231f20" stroke-width="0.35">****</text>
<text x="317" y="582.3" fill="#231f20" text-anchor="start" style="font-size:16px;" stroke="#231f20" stroke-width="0.22">j</text>
<text x="402.8" y="587.8" fill="#231f20" text-anchor="middle" style="font-size:9.8px;" stroke="#231f20" stroke-width="0.22">SH</text>
<polyline points="360.4,600.9 370.4,595 381.2,600.9 392,595 402.8,600.9 413.6,595 424.4,600.9 435.2,595 446,600.9 456.8,595 467.6,600.9 477.2,595.3" fill="none" stroke="#333" stroke-width="0.8"/>
<line x1="360.4" y1="600.9" x2="360.4" y2="612.6" stroke="#333" stroke-width="0.8"/>
<line x1="360.9" y1="600.2" x2="354.2" y2="596.3" stroke="#333" stroke-width="0.8"/>
<line x1="360" y1="601.9" x2="353.3" y2="598" stroke="#333" stroke-width="0.8"/>
<text x="350.2" y="597.6" fill="#333" text-anchor="middle" style="font-size:7.2px;" stroke="#333" stroke-width="0.22">O</text>
<line x1="380.5" y1="600.9" x2="380.5" y2="609.4" stroke="#333" stroke-width="0.8"/>
<line x1="382.1" y1="600.9" x2="382.1" y2="609.4" stroke="#333" stroke-width="0.8"/>
<text x="381.3" y="616.4" fill="#333" text-anchor="middle" style="font-size:7.2px;" stroke="#333" stroke-width="0.22">O</text>
<text x="392" y="728.7" fill="#231f20" text-anchor="middle" style="font-size:9.8px;" stroke="#231f20" stroke-width="0.22">AITC</text>
<text x="349.6" y="749.4" fill="#333" text-anchor="middle" style="font-size:7.2px;" stroke="#333" stroke-width="0.22">S</text>
<text x="377.8" y="748.6" fill="#333" text-anchor="middle" style="font-size:7.2px;" stroke="#333" stroke-width="0.22">N</text>
<line x1="352.6" y1="744" x2="362.9" y2="738.1" stroke="#333" stroke-width="0.8"/>
<line x1="353.4" y1="745.4" x2="363.5" y2="739.6" stroke="#333" stroke-width="0.8"/>
<line x1="362.9" y1="738.1" x2="373.6" y2="744.2" stroke="#333" stroke-width="0.8"/>
<line x1="363.2" y1="739.8" x2="372.8" y2="745.4" stroke="#333" stroke-width="0.8"/>
<line x1="381.4" y1="744" x2="392" y2="737.8" stroke="#333" stroke-width="0.8"/>
<line x1="392" y1="737.8" x2="404.1" y2="745.1" stroke="#333" stroke-width="0.8"/>
<line x1="404.1" y1="745.1" x2="419" y2="736.4" stroke="#333" stroke-width="0.8"/>
<line x1="403.6" y1="743.6" x2="418.2" y2="735" stroke="#333" stroke-width="0.8"/>
<path d="M 421.0 613.0 C 437.1 624.2 457.9 634.7 486.0 635.8 L 484.7 633.1 L 494.0 638.2 L 484.7 643.2 L 486.0 640.6 C 457.9 639.5 435.5 627.4 421.0 613.0 Z" fill="#bdd6ee"/>
<path d="M 412.2 711.1 C 433.9 701.2 453.1 685.2 465.1 665.6 L 461.9 667.2 L 470.7 660.3 L 470.7 671.0 L 469.0 668.2 C 456.3 687.6 437.1 703.6 412.2 711.1 Z" fill="#bdd6ee"/>
<path d="M 412.2 711.1 C 437.1 706.3 462.7 712.1 481.9 721.7 L 483.1 718.2 L 488.4 727.6 L 478.1 727.6 L 480.0 725.2 C 461.1 716.7 437.1 711.1 412.2 711.1 Z" fill="#bdd6ee"/>
<g stroke="#cf8d94" stroke-width="0.5" fill="#ecbcc0"><rect x="608.2" y="591" width="4.8" height="10.8" rx="2.2"/><rect x="613.2" y="591" width="4.8" height="10.8" rx="2.2"/></g>
<path d="M612.6 592.5V600.4M613.7 592.5V600.4" stroke="#c9737c" stroke-width="0.7"/>
<text x="622.4" y="599.9" fill="#c4616b" text-anchor="start" style="font-size:10.1px;" stroke="#c4616b" stroke-width="0.22">TRPA1</text>
<defs><linearGradient id="pg" x1="0" x2="1" y1="0" y2="0"><stop offset="0" stop-color="#ffffff"/><stop offset="0.35" stop-color="#d9c6e2"/><stop offset="1" stop-color="#7d4a9e"/></linearGradient></defs>
<polygon points="436,799.9 567.5,799.9 567.5,795.4 584.6,803.2 567.5,811 567.5,806.5 436,806.5" fill="url(#pg)"/>
<text x="373.5" y="806.2" fill="#7b3f98" text-anchor="start" style="font-size:10px;" stroke="#7b3f98" stroke-width="0.22">Irritants</text>
<text x="602.6" y="806.2" fill="#7b3f98" text-anchor="start" style="font-size:10px;" stroke="#7b3f98" stroke-width="0.22">Aversive behavior</text>
<defs><filter id="sb" x="-5%" y="-5%" width="110%" height="110%"><feGaussianBlur stdDeviation="0.35"/></filter>
<clipPath id="cu"><rect x="498.3" y="588.6" width="72.5" height="55.2"/></clipPath>
<clipPath id="cl"><path d="M500.7 706.6H569.6V763.1H547L541 752H528L524 763.1H500.7Z"/></clipPath></defs>
<g clip-path="url(#cu)" filter="url(#sb)">
<rect x="498.3" y="588.6" width="72.5" height="4.2" fill="#cddcf0"/>
<rect x="498.3" y="592.5" width="72.5" height="31" fill="#f3bfd3"/>
<ellipse cx="501.2" cy="603.02" rx="3.68" ry="10.51" fill="#ea96a6"/>
<ellipse cx="560.32" cy="604.34" rx="5.91" ry="11.17" fill="#ea96a6"/>
<ellipse cx="520.25" cy="606.96" rx="3.28" ry="14.45" fill="#f7d3e2"/>
<ellipse cx="531.42" cy="608.28" rx="2.36" ry="14.45" fill="#f8dbe8"/>
<ellipse cx="511.71" cy="616.16" rx="2.89" ry="7.88" fill="#f8d6e4"/>
<ellipse cx="549.81" cy="614.85" rx="2.63" ry="9.20" fill="#f8dbe8"/>
<ellipse cx="568.86" cy="605.65" rx="2.63" ry="11.82" fill="#f0a8b8"/>
<rect x="498.3" y="623.2" width="72.5" height="5.6" fill="#c7a3db"/>
<rect x="498.3" y="628.6" width="72.5" height="4.8" fill="#d6e2f4"/>
<rect x="498.3" y="633.2" width="72.5" height="10.6" fill="#f1e5d2"/>
<rect x="498.3" y="633.0" width="72.5" height="0.8" fill="#d9c7b0"/>
<ellipse cx="501.9" cy="625.9" rx="3.2" ry="2.3" fill="#dcc3ea" stroke="#a77fc4" stroke-width="0.3"/>
<circle cx="501.9" cy="626" r="0.8" fill="#6a4ca8"/>
<ellipse cx="503.9" cy="631" rx="3.3" ry="2.1" fill="#f4f8fd" stroke="#a9bfe2" stroke-width="0.3"/>
<ellipse cx="503.9" cy="631" rx="1.1" ry="0.6" fill="#5b7fc4"/>
<ellipse cx="509.2" cy="625.9" rx="3.2" ry="2.3" fill="#dcc3ea" stroke="#a77fc4" stroke-width="0.3"/>
<circle cx="509.2" cy="626" r="0.8" fill="#6a4ca8"/>
<ellipse cx="511.2" cy="631" rx="3.3" ry="2.1" fill="#f4f8fd" stroke="#a9bfe2" stroke-width="0.3"/>
<ellipse cx="511.2" cy="631" rx="1.1" ry="0.6" fill="#5b7fc4"/>
<ellipse cx="516.5" cy="625.9" rx="3.2" ry="2.3" fill="#dcc3ea" stroke="#a77fc4" stroke-width="0.3"/>
<circle cx="516.5" cy="626" r="0.8" fill="#6a4ca8"/>
<ellipse cx="518.5" cy="631" rx="3.3" ry="2.1" fill="#f4f8fd" stroke="#a9bfe2" stroke-width="0.3"/>
<ellipse cx="518.5" cy="631" rx="1.1" ry="0.6" fill="#5b7fc4"/>
<ellipse cx="523.8" cy="625.9" rx="3.2" ry="2.3" fill="#dcc3ea" stroke="#a77fc4" stroke-width="0.3"/>
<circle cx="523.8" cy="626" r="0.8" fill="#6a4ca8"/>
<ellipse cx="525.8" cy="631" rx="3.3" ry="2.1" fill="#f4f8fd" stroke="#a9bfe2" stroke-width="0.3"/>
<ellipse cx="525.8" cy="631" rx="1.1" ry="0.6" fill="#5b7fc4"/>
<ellipse cx="531.1" cy="625.9" rx="3.2" ry="2.3" fill="#dcc3ea" stroke="#a77fc4" stroke-width="0.3"/>
<circle cx="531.1" cy="626" r="0.8" fill="#6a4ca8"/>
<ellipse cx="533.1" cy="631" rx="3.3" ry="2.1" fill="#f4f8fd" stroke="#a9bfe2" stroke-width="0.3"/>
<ellipse cx="533.1" cy="631" rx="1.1" ry="0.6" fill="#5b7fc4"/>
<ellipse cx="538.4" cy="625.9" rx="3.2" ry="2.3" fill="#dcc3ea" stroke="#a77fc4" stroke-width="0.3"/>
<circle cx="538.4" cy="626" r="0.8" fill="#6a4ca8"/>
<ellipse cx="540.4" cy="631" rx="3.3" ry="2.1" fill="#f4f8fd" stroke="#a9bfe2" stroke-width="0.3"/>
<ellipse cx="540.4" cy="631" rx="1.1" ry="0.6" fill="#5b7fc4"/>
<ellipse cx="545.7" cy="625.9" rx="3.2" ry="2.3" fill="#dcc3ea" stroke="#a77fc4" stroke-width="0.3"/>
<circle cx="545.7" cy="626" r="0.8" fill="#6a4ca8"/>
<ellipse cx="547.7" cy="631" rx="3.3" ry="2.1" fill="#f4f8fd" stroke="#a9bfe2" stroke-width="0.3"/>
<ellipse cx="547.7" cy="631" rx="1.1" ry="0.6" fill="#5b7fc4"/>
<ellipse cx="553.0" cy="625.9" rx="3.2" ry="2.3" fill="#dcc3ea" stroke="#a77fc4" stroke-width="0.3"/>
<circle cx="553.0" cy="626" r="0.8" fill="#6a4ca8"/>
<ellipse cx="555.0" cy="631" rx="3.3" ry="2.1" fill="#f4f8fd" stroke="#a9bfe2" stroke-width="0.3"/>
<ellipse cx="555.0" cy="631" rx="1.1" ry="0.6" fill="#5b7fc4"/>
<ellipse cx="560.3" cy="625.9" rx="3.2" ry="2.3" fill="#dcc3ea" stroke="#a77fc4" stroke-width="0.3"/>
<circle cx="560.3" cy="626" r="0.8" fill="#6a4ca8"/>
<ellipse cx="562.3" cy="631" rx="3.3" ry="2.1" fill="#f4f8fd" stroke="#a9bfe2" stroke-width="0.3"/>
<ellipse cx="562.3" cy="631" rx="1.1" ry="0.6" fill="#5b7fc4"/>
<ellipse cx="567.6" cy="625.9" rx="3.2" ry="2.3" fill="#dcc3ea" stroke="#a77fc4" stroke-width="0.3"/>
<circle cx="567.6" cy="626" r="0.8" fill="#6a4ca8"/>
<ellipse cx="569.6" cy="631" rx="3.3" ry="2.1" fill="#f4f8fd" stroke="#a9bfe2" stroke-width="0.3"/>
<ellipse cx="569.6" cy="631" rx="1.1" ry="0.6" fill="#5b7fc4"/>
<ellipse cx="501.85" cy="636.53" rx="1.84" ry="2.10" fill="#a5434f"/>
<ellipse cx="514.99" cy="637.84" rx="1.71" ry="1.71" fill="#a5434f"/>
<ellipse cx="523.27" cy="636.92" rx="3.42" ry="2.63" fill="#5e9a7d"/>
<ellipse cx="528.79" cy="637.84" rx="1.58" ry="1.84" fill="#a5434f"/>
<ellipse cx="545.87" cy="635.87" rx="1.71" ry="2.36" fill="#a5434f"/>
<ellipse cx="559.01" cy="637.84" rx="3.42" ry="2.36" fill="#5e9a7d"/>
<ellipse cx="565.58" cy="635.87" rx="1.71" ry="1.31" fill="#a5434f"/>
<ellipse cx="520.25" cy="597.77" rx="1.18" ry="2.10" fill="#6f8fc4" transform="rotate(-20 520.25 597.77)"/>
<ellipse cx="509.74" cy="612.88" rx="1.45" ry="3.15" fill="#5f86c0" transform="rotate(0 509.74 612.88)"/>
<ellipse cx="530.1" cy="612.22" rx="1.18" ry="2.89" fill="#6a8fc6" transform="rotate(0 530.1 612.22)"/>
<ellipse cx="499.88" cy="617.47" rx="1.31" ry="2.10" fill="#7aa0d0" transform="rotate(0 499.88 617.47)"/>
<ellipse cx="549.81" cy="613.53" rx="1.18" ry="2.89" fill="#6a8fc6" transform="rotate(0 549.81 613.53)"/>
<ellipse cx="569.52" cy="615.5" rx="1.31" ry="3.15" fill="#5678b0" transform="rotate(0 569.52 615.5)"/>
<ellipse cx="560.32" cy="601.05" rx="1.31" ry="2.10" fill="#6b3f78" transform="rotate(0 560.32 601.05)"/>
<ellipse cx="500.15" cy="606.31" rx="1.31" ry="1.71" fill="#6b3f78" transform="rotate(0 500.15 606.31)"/>
<ellipse cx="557.04" cy="619.45" rx="1.84" ry="1.05" fill="#6a8fc6" transform="rotate(0 557.04 619.45)"/>
<ellipse cx="540.61" cy="613.53" rx="1.05" ry="2.36" fill="#6a8fc6" transform="rotate(0 540.61 613.53)"/>
<path d="M505.14 590.15L505.14 601.71Q505.73 621.42 507.5 633.24" fill="none" stroke="#efe96e" stroke-width="1.1"/>
<path d="M505.14 596.11C508.44 598.51 508.64 603.9100000000001 505.14 607.51C501.64 603.9100000000001 501.84 598.51 505.14 596.11Z" fill="#efe96e" stroke="#cfc43a" stroke-width="0.25"/>
<ellipse cx="505.14" cy="601.4100000000001" rx="1.4" ry="2.4" fill="#f8f5b8"/>
<ellipse cx="505.14" cy="601.51" rx="1.0" ry="1.6" fill="#4d86b4"/>
<path d="M514.99 590.15L514.99 603.68Q513.45 621.42 508.82 633.24" fill="none" stroke="#efe96e" stroke-width="1.1"/>
<path d="M514.99 598.0799999999999C518.29 600.4799999999999 518.49 605.88 514.99 609.4799999999999C511.49 605.88 511.69 600.4799999999999 514.99 598.0799999999999Z" fill="#efe96e" stroke="#cfc43a" stroke-width="0.25"/>
<ellipse cx="514.99" cy="603.38" rx="1.4" ry="2.4" fill="#f8f5b8"/>
<ellipse cx="514.99" cy="603.4799999999999" rx="1.0" ry="1.6" fill="#4d86b4"/>
<path d="M526.16 590.15L526.16 600.39Q522.06 621.42 509.74 633.24" fill="none" stroke="#efe96e" stroke-width="1.1"/>
<path d="M526.16 594.79C529.4599999999999 597.1899999999999 529.66 602.59 526.16 606.1899999999999C522.66 602.59 522.86 597.1899999999999 526.16 594.79Z" fill="#efe96e" stroke="#cfc43a" stroke-width="0.25"/>
<ellipse cx="526.16" cy="600.09" rx="1.4" ry="2.4" fill="#f8f5b8"/>
<ellipse cx="526.16" cy="600.1899999999999" rx="1.0" ry="1.6" fill="#4d86b4"/>
<path d="M544.56 590.15L544.56 603.68Q546.36 621.42 551.78 633.24" fill="none" stroke="#efe96e" stroke-width="1.1"/>
<path d="M544.56 598.0799999999999C547.8599999999999 600.4799999999999 548.06 605.88 544.56 609.4799999999999C541.06 605.88 541.26 600.4799999999999 544.56 598.0799999999999Z" fill="#efe96e" stroke="#cfc43a" stroke-width="0.25"/>
<ellipse cx="544.56" cy="603.38" rx="1.4" ry="2.4" fill="#f8f5b8"/>
<ellipse cx="544.56" cy="603.4799999999999" rx="1.0" ry="1.6" fill="#4d86b4"/>
<path d="M553.49 590.15L553.49 601.71Q553.23 621.42 552.44 633.24" fill="none" stroke="#efe96e" stroke-width="1.1"/>
<path d="M553.49 596.11C556.79 598.51 556.99 603.9100000000001 553.49 607.51C549.99 603.9100000000001 550.19 598.51 553.49 596.11Z" fill="#efe96e" stroke="#cfc43a" stroke-width="0.25"/>
<ellipse cx="553.49" cy="601.4100000000001" rx="1.4" ry="2.4" fill="#f8f5b8"/>
<ellipse cx="553.49" cy="601.51" rx="1.0" ry="1.6" fill="#4d86b4"/>
<path d="M564.92 590.15L564.92 603.68Q562.13 621.42 553.75 633.24" fill="none" stroke="#efe96e" stroke-width="1.1"/>
<path d="M564.92 598.0799999999999C568.2199999999999 600.4799999999999 568.42 605.88 564.92 609.4799999999999C561.42 605.88 561.62 600.4799999999999 564.92 598.0799999999999Z" fill="#efe96e" stroke="#cfc43a" stroke-width="0.25"/>
<ellipse cx="564.92" cy="603.38" rx="1.4" ry="2.4" fill="#f8f5b8"/>
<ellipse cx="564.92" cy="603.4799999999999" rx="1.0" ry="1.6" fill="#4d86b4"/>
<path d="M498.3 591.3H570.8" stroke="#e8e27a" stroke-width="0.7" stroke-dasharray="1.2 0.8"/>
<rect x="505.8" y="631.93" width="5.91" height="12.09" fill="#d8cf4a" stroke="#b7aa2a" stroke-width="0.3"/>
<line x1="508.69" y1="631.93" x2="508.69" y2="643.93" stroke="#b7aa2a" stroke-width="0.3"/>
<rect x="549.81" y="631.93" width="5.91" height="12.09" fill="#d8cf4a" stroke="#b7aa2a" stroke-width="0.3"/>
<line x1="552.7" y1="631.93" x2="552.7" y2="643.93" stroke="#b7aa2a" stroke-width="0.3"/>
<path d="M 534.0 592.8 Q 536.9 591.5 539.8 592.8 C 539.3 597.8 538.5 601.7 538.5 608.3 L 538.8 631.3 Q 543.5 633.9 542.7 637.8 Q 537.3 641.8 531.7 638.2 Q 530.9 634.0 535.5 631.3 L 535.6 608.3 C 535.6 601.7 534.7 597.8 534.0 592.8 Z" fill="#5b79c9" stroke="#4763b3" stroke-width="0.3"/>
</g>
<g filter="url(#sb)">
<g clip-path="url(#cl)">
<rect x="500.7" y="706.6" width="69" height="56.6" fill="#efdcb8"/>
<ellipse cx="503.2" cy="708.8" rx="3.05" ry="3.0" fill="#fcf4e0" stroke="#e6cc9c" stroke-width="0.3"/>
<ellipse cx="503.1" cy="709.1" rx="0.75" ry="0.45" fill="#7f95c8"/>
<ellipse cx="509.4" cy="708.8" rx="3.05" ry="3.0" fill="#fcf4e0" stroke="#e6cc9c" stroke-width="0.3"/>
<ellipse cx="509.2" cy="709.1" rx="0.75" ry="0.45" fill="#7f95c8"/>
<ellipse cx="516.3" cy="709.5" rx="3.05" ry="3.0" fill="#fcf4e0" stroke="#e6cc9c" stroke-width="0.3"/>
<ellipse cx="516.6" cy="709.8" rx="0.75" ry="0.45" fill="#7f95c8"/>
<ellipse cx="521.8" cy="709.2" rx="3.05" ry="3.0" fill="#fcf4e0" stroke="#e6cc9c" stroke-width="0.3"/>
<ellipse cx="521.6" cy="709.5" rx="0.75" ry="0.45" fill="#7f95c8"/>
<ellipse cx="528.0" cy="708.8" rx="3.05" ry="3.0" fill="#fcf4e0" stroke="#e6cc9c" stroke-width="0.3"/>
<ellipse cx="527.6" cy="709.1" rx="0.75" ry="0.45" fill="#7f95c8"/>
<ellipse cx="534.9" cy="709.5" rx="3.05" ry="3.0" fill="#fcf4e0" stroke="#e6cc9c" stroke-width="0.3"/>
<ellipse cx="535.3" cy="709.8" rx="0.75" ry="0.45" fill="#7f95c8"/>
<ellipse cx="541.0" cy="708.9" rx="3.05" ry="3.0" fill="#fcf4e0" stroke="#e6cc9c" stroke-width="0.3"/>
<ellipse cx="540.8" cy="709.2" rx="0.75" ry="0.45" fill="#7f95c8"/>
<ellipse cx="547.0" cy="709.4" rx="3.05" ry="3.0" fill="#fcf4e0" stroke="#e6cc9c" stroke-width="0.3"/>
<ellipse cx="547.5" cy="709.7" rx="0.75" ry="0.45" fill="#7f95c8"/>
<ellipse cx="553.5" cy="708.8" rx="3.05" ry="3.0" fill="#fcf4e0" stroke="#e6cc9c" stroke-width="0.3"/>
<ellipse cx="553.6" cy="709.1" rx="0.75" ry="0.45" fill="#7f95c8"/>
<ellipse cx="559.5" cy="709.2" rx="3.05" ry="3.0" fill="#fcf4e0" stroke="#e6cc9c" stroke-width="0.3"/>
<ellipse cx="559.1" cy="709.5" rx="0.75" ry="0.45" fill="#7f95c8"/>
<ellipse cx="565.5" cy="708.8" rx="3.05" ry="3.0" fill="#fcf4e0" stroke="#e6cc9c" stroke-width="0.3"/>
<ellipse cx="566.0" cy="709.1" rx="0.75" ry="0.45" fill="#7f95c8"/>
<ellipse cx="572.1" cy="709.2" rx="3.05" ry="3.0" fill="#fcf4e0" stroke="#e6cc9c" stroke-width="0.3"/>
<ellipse cx="571.8" cy="709.5" rx="0.75" ry="0.45" fill="#7f95c8"/>
<ellipse cx="507.0" cy="714.7" rx="3.05" ry="3.0" fill="#fcf4e0" stroke="#e6cc9c" stroke-width="0.3"/>
<ellipse cx="507.5" cy="715.0" rx="0.75" ry="0.45" fill="#7f95c8"/>
<ellipse cx="513.1" cy="714.6" rx="3.05" ry="3.0" fill="#fcf4e0" stroke="#e6cc9c" stroke-width="0.3"/>
<ellipse cx="513.0" cy="714.9" rx="0.75" ry="0.45" fill="#7f95c8"/>
<ellipse cx="519.1" cy="714.5" rx="3.05" ry="3.0" fill="#fcf4e0" stroke="#e6cc9c" stroke-width="0.3"/>
<ellipse cx="518.7" cy="714.8" rx="0.75" ry="0.45" fill="#7f95c8"/>
<ellipse cx="525.0" cy="714.9" rx="3.05" ry="3.0" fill="#fcf4e0" stroke="#e6cc9c" stroke-width="0.3"/>
<ellipse cx="524.5" cy="715.2" rx="0.75" ry="0.45" fill="#7f95c8"/>
<ellipse cx="530.9" cy="714.7" rx="3.05" ry="3.0" fill="#fcf4e0" stroke="#e6cc9c" stroke-width="0.3"/>
<ellipse cx="530.7" cy="715.0" rx="0.75" ry="0.45" fill="#7f95c8"/>
<ellipse cx="537.6" cy="714.6" rx="3.05" ry="3.0" fill="#fcf4e0" stroke="#e6cc9c" stroke-width="0.3"/>
<ellipse cx="537.4" cy="714.9" rx="0.75" ry="0.45" fill="#7f95c8"/>
<ellipse cx="544.3" cy="714.3" rx="3.05" ry="3.0" fill="#fcf4e0" stroke="#e6cc9c" stroke-width="0.3"/>
<ellipse cx="544.2" cy="714.6" rx="0.75" ry="0.45" fill="#7f95c8"/>
<ellipse cx="549.7" cy="714.7" rx="3.05" ry="3.0" fill="#fcf4e0" stroke="#e6cc9c" stroke-width="0.3"/>
<ellipse cx="549.4" cy="715.0" rx="0.75" ry="0.45" fill="#7f95c8"/>
<ellipse cx="556.1" cy="714.8" rx="3.05" ry="3.0" fill="#fcf4e0" stroke="#e6cc9c" stroke-width="0.3"/>
<ellipse cx="555.8" cy="715.1" rx="0.75" ry="0.45" fill="#7f95c8"/>
<ellipse cx="562.5" cy="715.0" rx="3.05" ry="3.0" fill="#fcf4e0" stroke="#e6cc9c" stroke-width="0.3"/>
<ellipse cx="562.0" cy="715.3" rx="0.75" ry="0.45" fill="#7f95c8"/>
<ellipse cx="568.2" cy="714.3" rx="3.05" ry="3.0" fill="#fcf4e0" stroke="#e6cc9c" stroke-width="0.3"/>
<ellipse cx="568.5" cy="714.6" rx="0.75" ry="0.45" fill="#7f95c8"/>
<ellipse cx="503.6" cy="719.7" rx="3.05" ry="3.0" fill="#fcf4e0" stroke="#e6cc9c" stroke-width="0.3"/>
<ellipse cx="503.4" cy="720.0" rx="0.75" ry="0.45" fill="#7f95c8"/>
<ellipse cx="509.4" cy="720.0" rx="3.05" ry="3.0" fill="#fcf4e0" stroke="#e6cc9c" stroke-width="0.3"/>
<ellipse cx="508.8" cy="720.3" rx="0.75" ry="0.45" fill="#7f95c8"/>
<ellipse cx="516.1" cy="720.4" rx="3.05" ry="3.0" fill="#fcf4e0" stroke="#e6cc9c" stroke-width="0.3"/>
<ellipse cx="516.6" cy="720.7" rx="0.75" ry="0.45" fill="#7f95c8"/>
<ellipse cx="522.3" cy="720.5" rx="3.05" ry="3.0" fill="#fcf4e0" stroke="#e6cc9c" stroke-width="0.3"/>
<ellipse cx="521.8" cy="720.8" rx="0.75" ry="0.45" fill="#7f95c8"/>
<ellipse cx="528.1" cy="720.5" rx="3.05" ry="3.0" fill="#fcf4e0" stroke="#e6cc9c" stroke-width="0.3"/>
<ellipse cx="528.4" cy="720.8" rx="0.75" ry="0.45" fill="#7f95c8"/>
<ellipse cx="534.4" cy="720.4" rx="3.05" ry="3.0" fill="#fcf4e0" stroke="#e6cc9c" stroke-width="0.3"/>
<ellipse cx="534.6" cy="720.7" rx="0.75" ry="0.45" fill="#7f95c8"/>
<ellipse cx="541.0" cy="719.8" rx="3.05" ry="3.0" fill="#fcf4e0" stroke="#e6cc9c" stroke-width="0.3"/>
<ellipse cx="540.6" cy="720.1" rx="0.75" ry="0.45" fill="#7f95c8"/>
<ellipse cx="546.8" cy="719.6" rx="3.05" ry="3.0" fill="#fcf4e0" stroke="#e6cc9c" stroke-width="0.3"/>
<ellipse cx="546.7" cy="719.9" rx="0.75" ry="0.45" fill="#7f95c8"/>
<ellipse cx="553.6" cy="719.8" rx="3.05" ry="3.0" fill="#fcf4e0" stroke="#e6cc9c" stroke-width="0.3"/>
<ellipse cx="553.0" cy="720.1" rx="0.75" ry="0.45" fill="#7f95c8"/>
<ellipse cx="558.8" cy="719.7" rx="3.05" ry="3.0" fill="#fcf4e0" stroke="#e6cc9c" stroke-width="0.3"/>
<ellipse cx="559.2" cy="720.0" rx="0.75" ry="0.45" fill="#7f95c8"/>
<ellipse cx="565.4" cy="719.8" rx="3.05" ry="3.0" fill="#fcf4e0" stroke="#e6cc9c" stroke-width="0.3"/>
<ellipse cx="564.9" cy="720.1" rx="0.75" ry="0.45" fill="#7f95c8"/>
<ellipse cx="572.2" cy="719.9" rx="3.05" ry="3.0" fill="#fcf4e0" stroke="#e6cc9c" stroke-width="0.3"/>
<ellipse cx="571.8" cy="720.2" rx="0.75" ry="0.45" fill="#7f95c8"/>
<ellipse cx="506.2" cy="725.0" rx="3.05" ry="3.0" fill="#fcf4e0" stroke="#e6cc9c" stroke-width="0.3"/>
<ellipse cx="505.8" cy="725.3" rx="0.75" ry="0.45" fill="#7f95c8"/>
<ellipse cx="513.0" cy="725.0" rx="3.05" ry="3.0" fill="#fcf4e0" stroke="#e6cc9c" stroke-width="0.3"/>
<ellipse cx="512.4" cy="725.3" rx="0.75" ry="0.45" fill="#7f95c8"/>
<ellipse cx="519.0" cy="725.1" rx="3.05" ry="3.0" fill="#fcf4e0" stroke="#e6cc9c" stroke-width="0.3"/>
<ellipse cx="519.6" cy="725.4" rx="0.75" ry="0.45" fill="#7f95c8"/>
<ellipse cx="524.8" cy="725.4" rx="3.05" ry="3.0" fill="#fcf4e0" stroke="#e6cc9c" stroke-width="0.3"/>
<ellipse cx="525.2" cy="725.7" rx="0.75" ry="0.45" fill="#7f95c8"/>
<ellipse cx="531.3" cy="725.9" rx="3.05" ry="3.0" fill="#fcf4e0" stroke="#e6cc9c" stroke-width="0.3"/>
<ellipse cx="531.3" cy="726.2" rx="0.75" ry="0.45" fill="#7f95c8"/>
<ellipse cx="537.3" cy="725.3" rx="3.05" ry="3.0" fill="#fcf4e0" stroke="#e6cc9c" stroke-width="0.3"/>
<ellipse cx="536.8" cy="725.6" rx="0.75" ry="0.45" fill="#7f95c8"/>
<ellipse cx="543.7" cy="725.1" rx="3.05" ry="3.0" fill="#fcf4e0" stroke="#e6cc9c" stroke-width="0.3"/>
<ellipse cx="544.2" cy="725.4" rx="0.75" ry="0.45" fill="#7f95c8"/>
<ellipse cx="550.3" cy="725.4" rx="3.05" ry="3.0" fill="#fcf4e0" stroke="#e6cc9c" stroke-width="0.3"/>
<ellipse cx="549.8" cy="725.7" rx="0.75" ry="0.45" fill="#7f95c8"/>
<ellipse cx="556.0" cy="725.1" rx="3.05" ry="3.0" fill="#fcf4e0" stroke="#e6cc9c" stroke-width="0.3"/>
<ellipse cx="555.6" cy="725.4" rx="0.75" ry="0.45" fill="#7f95c8"/>
<ellipse cx="562.1" cy="725.8" rx="3.05" ry="3.0" fill="#fcf4e0" stroke="#e6cc9c" stroke-width="0.3"/>
<ellipse cx="561.7" cy="726.1" rx="0.75" ry="0.45" fill="#7f95c8"/>
<ellipse cx="568.2" cy="725.8" rx="3.05" ry="3.0" fill="#fcf4e0" stroke="#e6cc9c" stroke-width="0.3"/>
<ellipse cx="568.2" cy="726.1" rx="0.75" ry="0.45" fill="#7f95c8"/>
<ellipse cx="504.0" cy="730.7" rx="3.05" ry="3.0" fill="#fcf4e0" stroke="#e6cc9c" stroke-width="0.3"/>
<ellipse cx="504.5" cy="731.0" rx="0.75" ry="0.45" fill="#7f95c8"/>
<ellipse cx="509.9" cy="731.1" rx="3.05" ry="3.0" fill="#fcf4e0" stroke="#e6cc9c" stroke-width="0.3"/>
<ellipse cx="510.1" cy="731.4" rx="0.75" ry="0.45" fill="#7f95c8"/>
<ellipse cx="515.9" cy="730.4" rx="3.05" ry="3.0" fill="#fcf4e0" stroke="#e6cc9c" stroke-width="0.3"/>
<ellipse cx="515.5" cy="730.7" rx="0.75" ry="0.45" fill="#7f95c8"/>
<ellipse cx="522.5" cy="731.2" rx="3.05" ry="3.0" fill="#fcf4e0" stroke="#e6cc9c" stroke-width="0.3"/>
<ellipse cx="523.0" cy="731.5" rx="0.75" ry="0.45" fill="#7f95c8"/>
<ellipse cx="528.1" cy="731.0" rx="3.05" ry="3.0" fill="#fcf4e0" stroke="#e6cc9c" stroke-width="0.3"/>
<ellipse cx="528.5" cy="731.3" rx="0.75" ry="0.45" fill="#7f95c8"/>
<ellipse cx="534.6" cy="731.1" rx="3.05" ry="3.0" fill="#fcf4e0" stroke="#e6cc9c" stroke-width="0.3"/>
<ellipse cx="534.7" cy="731.4" rx="0.75" ry="0.45" fill="#7f95c8"/>
<ellipse cx="540.9" cy="731.0" rx="3.05" ry="3.0" fill="#fcf4e0" stroke="#e6cc9c" stroke-width="0.3"/>
<ellipse cx="540.6" cy="731.3" rx="0.75" ry="0.45" fill="#7f95c8"/>
<ellipse cx="547.3" cy="731.3" rx="3.05" ry="3.0" fill="#fcf4e0" stroke="#e6cc9c" stroke-width="0.3"/>
<ellipse cx="546.8" cy="731.6" rx="0.75" ry="0.45" fill="#7f95c8"/>
<ellipse cx="553.6" cy="731.3" rx="3.05" ry="3.0" fill="#fcf4e0" stroke="#e6cc9c" stroke-width="0.3"/>
<ellipse cx="553.8" cy="731.6" rx="0.75" ry="0.45" fill="#7f95c8"/>
<ellipse cx="558.8" cy="731.2" rx="3.05" ry="3.0" fill="#fcf4e0" stroke="#e6cc9c" stroke-width="0.3"/>
<ellipse cx="558.4" cy="731.5" rx="0.75" ry="0.45" fill="#7f95c8"/>
<ellipse cx="566.0" cy="731.0" rx="3.05" ry="3.0" fill="#fcf4e0" stroke="#e6cc9c" stroke-width="0.3"/>
<ellipse cx="565.4" cy="731.3" rx="0.75" ry="0.45" fill="#7f95c8"/>
<ellipse cx="571.4" cy="730.9" rx="3.05" ry="3.0" fill="#fcf4e0" stroke="#e6cc9c" stroke-width="0.3"/>
<ellipse cx="571.5" cy="731.2" rx="0.75" ry="0.45" fill="#7f95c8"/>
<ellipse cx="506.8" cy="736.6" rx="3.05" ry="3.0" fill="#fcf4e0" stroke="#e6cc9c" stroke-width="0.3"/>
<ellipse cx="506.5" cy="736.9" rx="0.75" ry="0.45" fill="#7f95c8"/>
<ellipse cx="512.3" cy="736.6" rx="3.05" ry="3.0" fill="#fcf4e0" stroke="#e6cc9c" stroke-width="0.3"/>
<ellipse cx="511.7" cy="736.9" rx="0.75" ry="0.45" fill="#7f95c8"/>
<ellipse cx="519.4" cy="735.8" rx="3.05" ry="3.0" fill="#fcf4e0" stroke="#e6cc9c" stroke-width="0.3"/>
<ellipse cx="519.7" cy="736.1" rx="0.75" ry="0.45" fill="#7f95c8"/>
<ellipse cx="525.5" cy="736.6" rx="3.05" ry="3.0" fill="#fcf4e0" stroke="#e6cc9c" stroke-width="0.3"/>
<ellipse cx="525.5" cy="736.9" rx="0.75" ry="0.45" fill="#7f95c8"/>
<ellipse cx="531.8" cy="735.9" rx="3.05" ry="3.0" fill="#fcf4e0" stroke="#e6cc9c" stroke-width="0.3"/>
<ellipse cx="532.0" cy="736.2" rx="0.75" ry="0.45" fill="#7f95c8"/>
<ellipse cx="537.4" cy="736.6" rx="3.05" ry="3.0" fill="#fcf4e0" stroke="#e6cc9c" stroke-width="0.3"/>
<ellipse cx="537.8" cy="736.9" rx="0.75" ry="0.45" fill="#7f95c8"/>
<ellipse cx="543.8" cy="736.2" rx="3.05" ry="3.0" fill="#fcf4e0" stroke="#e6cc9c" stroke-width="0.3"/>
<ellipse cx="543.2" cy="736.5" rx="0.75" ry="0.45" fill="#7f95c8"/>
<ellipse cx="549.5" cy="736.3" rx="3.05" ry="3.0" fill="#fcf4e0" stroke="#e6cc9c" stroke-width="0.3"/>
<ellipse cx="549.5" cy="736.6" rx="0.75" ry="0.45" fill="#7f95c8"/>
<ellipse cx="556.6" cy="736.3" rx="3.05" ry="3.0" fill="#fcf4e0" stroke="#e6cc9c" stroke-width="0.3"/>
<ellipse cx="556.1" cy="736.6" rx="0.75" ry="0.45" fill="#7f95c8"/>
<ellipse cx="562.3" cy="736.5" rx="3.05" ry="3.0" fill="#fcf4e0" stroke="#e6cc9c" stroke-width="0.3"/>
<ellipse cx="562.3" cy="736.8" rx="0.75" ry="0.45" fill="#7f95c8"/>
<ellipse cx="568.1" cy="736.5" rx="3.05" ry="3.0" fill="#fcf4e0" stroke="#e6cc9c" stroke-width="0.3"/>
<ellipse cx="568.5" cy="736.8" rx="0.75" ry="0.45" fill="#7f95c8"/>
<ellipse cx="503.1" cy="741.6" rx="3.05" ry="3.0" fill="#fcf4e0" stroke="#e6cc9c" stroke-width="0.3"/>
<ellipse cx="502.9" cy="741.9" rx="0.75" ry="0.45" fill="#7f95c8"/>
<ellipse cx="510.0" cy="741.4" rx="3.05" ry="3.0" fill="#fcf4e0" stroke="#e6cc9c" stroke-width="0.3"/>
<ellipse cx="509.7" cy="741.7" rx="0.75" ry="0.45" fill="#7f95c8"/>
<ellipse cx="515.9" cy="742.1" rx="3.05" ry="3.0" fill="#fcf4e0" stroke="#e6cc9c" stroke-width="0.3"/>
<ellipse cx="515.4" cy="742.4" rx="0.75" ry="0.45" fill="#7f95c8"/>
<ellipse cx="521.7" cy="741.7" rx="3.05" ry="3.0" fill="#fcf4e0" stroke="#e6cc9c" stroke-width="0.3"/>
<ellipse cx="522.2" cy="742.0" rx="0.75" ry="0.45" fill="#7f95c8"/>
<ellipse cx="528.3" cy="741.5" rx="3.05" ry="3.0" fill="#fcf4e0" stroke="#e6cc9c" stroke-width="0.3"/>
<ellipse cx="528.7" cy="741.8" rx="0.75" ry="0.45" fill="#7f95c8"/>
<ellipse cx="534.8" cy="741.2" rx="3.05" ry="3.0" fill="#fcf4e0" stroke="#e6cc9c" stroke-width="0.3"/>
<ellipse cx="535.2" cy="741.5" rx="0.75" ry="0.45" fill="#7f95c8"/>
<ellipse cx="540.4" cy="741.4" rx="3.05" ry="3.0" fill="#fcf4e0" stroke="#e6cc9c" stroke-width="0.3"/>
<ellipse cx="540.8" cy="741.7" rx="0.75" ry="0.45" fill="#7f95c8"/>
<ellipse cx="546.8" cy="741.9" rx="3.05" ry="3.0" fill="#fcf4e0" stroke="#e6cc9c" stroke-width="0.3"/>
<ellipse cx="546.4" cy="742.2" rx="0.75" ry="0.45" fill="#7f95c8"/>
<ellipse cx="553.5" cy="741.3" rx="3.05" ry="3.0" fill="#fcf4e0" stroke="#e6cc9c" stroke-width="0.3"/>
<ellipse cx="553.1" cy="741.6" rx="0.75" ry="0.45" fill="#7f95c8"/>
<ellipse cx="559.3" cy="741.4" rx="3.05" ry="3.0" fill="#fcf4e0" stroke="#e6cc9c" stroke-width="0.3"/>
<ellipse cx="559.3" cy="741.7" rx="0.75" ry="0.45" fill="#7f95c8"/>
<ellipse cx="565.9" cy="741.8" rx="3.05" ry="3.0" fill="#fcf4e0" stroke="#e6cc9c" stroke-width="0.3"/>
<ellipse cx="565.3" cy="742.1" rx="0.75" ry="0.45" fill="#7f95c8"/>
<ellipse cx="571.5" cy="741.6" rx="3.05" ry="3.0" fill="#fcf4e0" stroke="#e6cc9c" stroke-width="0.3"/>
<ellipse cx="571.5" cy="741.9" rx="0.75" ry="0.45" fill="#7f95c8"/>
<ellipse cx="506.8" cy="747.0" rx="3.05" ry="3.0" fill="#fcf4e0" stroke="#e6cc9c" stroke-width="0.3"/>
<ellipse cx="506.3" cy="747.3" rx="0.75" ry="0.45" fill="#7f95c8"/>
<ellipse cx="512.5" cy="747.3" rx="3.05" ry="3.0" fill="#fcf4e0" stroke="#e6cc9c" stroke-width="0.3"/>
<ellipse cx="512.4" cy="747.6" rx="0.75" ry="0.45" fill="#7f95c8"/>
<ellipse cx="519.3" cy="747.5" rx="3.05" ry="3.0" fill="#fcf4e0" stroke="#e6cc9c" stroke-width="0.3"/>
<ellipse cx="519.4" cy="747.8" rx="0.75" ry="0.45" fill="#7f95c8"/>
<ellipse cx="525.4" cy="747.1" rx="3.05" ry="3.0" fill="#fcf4e0" stroke="#e6cc9c" stroke-width="0.3"/>
<ellipse cx="525.2" cy="747.4" rx="0.75" ry="0.45" fill="#7f95c8"/>
<ellipse cx="531.8" cy="747.0" rx="3.05" ry="3.0" fill="#fcf4e0" stroke="#e6cc9c" stroke-width="0.3"/>
<ellipse cx="532.3" cy="747.3" rx="0.75" ry="0.45" fill="#7f95c8"/>
<ellipse cx="537.4" cy="747.4" rx="3.05" ry="3.0" fill="#fcf4e0" stroke="#e6cc9c" stroke-width="0.3"/>
<ellipse cx="537.7" cy="747.7" rx="0.75" ry="0.45" fill="#7f95c8"/>
<ellipse cx="543.9" cy="746.9" rx="3.05" ry="3.0" fill="#fcf4e0" stroke="#e6cc9c" stroke-width="0.3"/>
<ellipse cx="543.5" cy="747.2" rx="0.75" ry="0.45" fill="#7f95c8"/>
<ellipse cx="550.3" cy="746.9" rx="3.05" ry="3.0" fill="#fcf4e0" stroke="#e6cc9c" stroke-width="0.3"/>
<ellipse cx="550.5" cy="747.2" rx="0.75" ry="0.45" fill="#7f95c8"/>
<ellipse cx="555.8" cy="746.6" rx="3.05" ry="3.0" fill="#fcf4e0" stroke="#e6cc9c" stroke-width="0.3"/>
<ellipse cx="555.4" cy="746.9" rx="0.75" ry="0.45" fill="#7f95c8"/>
<ellipse cx="562.7" cy="746.7" rx="3.05" ry="3.0" fill="#fcf4e0" stroke="#e6cc9c" stroke-width="0.3"/>
<ellipse cx="563.2" cy="747.0" rx="0.75" ry="0.45" fill="#7f95c8"/>
<ellipse cx="568.5" cy="747.1" rx="3.05" ry="3.0" fill="#fcf4e0" stroke="#e6cc9c" stroke-width="0.3"/>
<ellipse cx="568.3" cy="747.4" rx="0.75" ry="0.45" fill="#7f95c8"/>
<ellipse cx="503.6" cy="752.0" rx="3.05" ry="3.0" fill="#fcf4e0" stroke="#e6cc9c" stroke-width="0.3"/>
<ellipse cx="503.5" cy="752.3" rx="0.75" ry="0.45" fill="#7f95c8"/>
<ellipse cx="510.1" cy="752.1" rx="3.05" ry="3.0" fill="#fcf4e0" stroke="#e6cc9c" stroke-width="0.3"/>
<ellipse cx="510.3" cy="752.4" rx="0.75" ry="0.45" fill="#7f95c8"/>
<ellipse cx="515.7" cy="752.2" rx="3.05" ry="3.0" fill="#fcf4e0" stroke="#e6cc9c" stroke-width="0.3"/>
<ellipse cx="515.2" cy="752.5" rx="0.75" ry="0.45" fill="#7f95c8"/>
<ellipse cx="521.6" cy="752.8" rx="3.05" ry="3.0" fill="#fcf4e0" stroke="#e6cc9c" stroke-width="0.3"/>
<ellipse cx="522.0" cy="753.1" rx="0.75" ry="0.45" fill="#7f95c8"/>
<ellipse cx="528.6" cy="752.7" rx="3.05" ry="3.0" fill="#fcf4e0" stroke="#e6cc9c" stroke-width="0.3"/>
<ellipse cx="529.1" cy="753.0" rx="0.75" ry="0.45" fill="#7f95c8"/>
<ellipse cx="534.2" cy="752.5" rx="3.05" ry="3.0" fill="#fcf4e0" stroke="#e6cc9c" stroke-width="0.3"/>
<ellipse cx="534.2" cy="752.8" rx="0.75" ry="0.45" fill="#7f95c8"/>
<ellipse cx="540.8" cy="752.8" rx="3.05" ry="3.0" fill="#fcf4e0" stroke="#e6cc9c" stroke-width="0.3"/>
<ellipse cx="541.1" cy="753.1" rx="0.75" ry="0.45" fill="#7f95c8"/>
<ellipse cx="547.4" cy="752.0" rx="3.05" ry="3.0" fill="#fcf4e0" stroke="#e6cc9c" stroke-width="0.3"/>
<ellipse cx="547.6" cy="752.3" rx="0.75" ry="0.45" fill="#7f95c8"/>
<ellipse cx="553.3" cy="752.6" rx="3.05" ry="3.0" fill="#fcf4e0" stroke="#e6cc9c" stroke-width="0.3"/>
<ellipse cx="553.4" cy="752.9" rx="0.75" ry="0.45" fill="#7f95c8"/>
<ellipse cx="559.6" cy="752.2" rx="3.05" ry="3.0" fill="#fcf4e0" stroke="#e6cc9c" stroke-width="0.3"/>
<ellipse cx="560.1" cy="752.5" rx="0.75" ry="0.45" fill="#7f95c8"/>
<ellipse cx="565.4" cy="752.5" rx="3.05" ry="3.0" fill="#fcf4e0" stroke="#e6cc9c" stroke-width="0.3"/>
<ellipse cx="565.9" cy="752.8" rx="0.75" ry="0.45" fill="#7f95c8"/>
<ellipse cx="571.9" cy="752.2" rx="3.05" ry="3.0" fill="#fcf4e0" stroke="#e6cc9c" stroke-width="0.3"/>
<ellipse cx="571.6" cy="752.5" rx="0.75" ry="0.45" fill="#7f95c8"/>
<ellipse cx="506.4" cy="757.9" rx="3.05" ry="3.0" fill="#fcf4e0" stroke="#e6cc9c" stroke-width="0.3"/>
<ellipse cx="507.0" cy="758.2" rx="0.75" ry="0.45" fill="#7f95c8"/>
<ellipse cx="513.2" cy="757.7" rx="3.05" ry="3.0" fill="#fcf4e0" stroke="#e6cc9c" stroke-width="0.3"/>
<ellipse cx="513.1" cy="758.0" rx="0.75" ry="0.45" fill="#7f95c8"/>
<ellipse cx="519.3" cy="757.6" rx="3.05" ry="3.0" fill="#fcf4e0" stroke="#e6cc9c" stroke-width="0.3"/>
<ellipse cx="519.2" cy="757.9" rx="0.75" ry="0.45" fill="#7f95c8"/>
<ellipse cx="524.7" cy="757.5" rx="3.05" ry="3.0" fill="#fcf4e0" stroke="#e6cc9c" stroke-width="0.3"/>
<ellipse cx="524.8" cy="757.8" rx="0.75" ry="0.45" fill="#7f95c8"/>
<ellipse cx="531.6" cy="757.9" rx="3.05" ry="3.0" fill="#fcf4e0" stroke="#e6cc9c" stroke-width="0.3"/>
<ellipse cx="531.4" cy="758.2" rx="0.75" ry="0.45" fill="#7f95c8"/>
<ellipse cx="538.1" cy="757.9" rx="3.05" ry="3.0" fill="#fcf4e0" stroke="#e6cc9c" stroke-width="0.3"/>
<ellipse cx="537.6" cy="758.2" rx="0.75" ry="0.45" fill="#7f95c8"/>
<ellipse cx="543.4" cy="758.3" rx="3.05" ry="3.0" fill="#fcf4e0" stroke="#e6cc9c" stroke-width="0.3"/>
<ellipse cx="544.0" cy="758.6" rx="0.75" ry="0.45" fill="#7f95c8"/>
<ellipse cx="550.4" cy="757.9" rx="3.05" ry="3.0" fill="#fcf4e0" stroke="#e6cc9c" stroke-width="0.3"/>
<ellipse cx="550.2" cy="758.2" rx="0.75" ry="0.45" fill="#7f95c8"/>
<ellipse cx="555.8" cy="757.6" rx="3.05" ry="3.0" fill="#fcf4e0" stroke="#e6cc9c" stroke-width="0.3"/>
<ellipse cx="555.5" cy="757.9" rx="0.75" ry="0.45" fill="#7f95c8"/>
<ellipse cx="562.8" cy="758.2" rx="3.05" ry="3.0" fill="#fcf4e0" stroke="#e6cc9c" stroke-width="0.3"/>
<ellipse cx="563.2" cy="758.5" rx="0.75" ry="0.45" fill="#7f95c8"/>
<ellipse cx="568.2" cy="757.5" rx="3.05" ry="3.0" fill="#fcf4e0" stroke="#e6cc9c" stroke-width="0.3"/>
<ellipse cx="568.0" cy="757.8" rx="0.75" ry="0.45" fill="#7f95c8"/>
<ellipse cx="503.9" cy="762.9" rx="3.05" ry="3.0" fill="#fcf4e0" stroke="#e6cc9c" stroke-width="0.3"/>
<ellipse cx="504.3" cy="763.2" rx="0.75" ry="0.45" fill="#7f95c8"/>
<ellipse cx="509.9" cy="763.2" rx="3.05" ry="3.0" fill="#fcf4e0" stroke="#e6cc9c" stroke-width="0.3"/>
<ellipse cx="510.4" cy="763.5" rx="0.75" ry="0.45" fill="#7f95c8"/>
<ellipse cx="515.7" cy="763.2" rx="3.05" ry="3.0" fill="#fcf4e0" stroke="#e6cc9c" stroke-width="0.3"/>
<ellipse cx="515.3" cy="763.5" rx="0.75" ry="0.45" fill="#7f95c8"/>
<ellipse cx="521.7" cy="762.7" rx="3.05" ry="3.0" fill="#fcf4e0" stroke="#e6cc9c" stroke-width="0.3"/>
<ellipse cx="521.5" cy="763.0" rx="0.75" ry="0.45" fill="#7f95c8"/>
<ellipse cx="527.9" cy="762.8" rx="3.05" ry="3.0" fill="#fcf4e0" stroke="#e6cc9c" stroke-width="0.3"/>
<ellipse cx="528.5" cy="763.1" rx="0.75" ry="0.45" fill="#7f95c8"/>
<ellipse cx="534.3" cy="763.6" rx="3.05" ry="3.0" fill="#fcf4e0" stroke="#e6cc9c" stroke-width="0.3"/>
<ellipse cx="534.5" cy="763.9" rx="0.75" ry="0.45" fill="#7f95c8"/>
<ellipse cx="540.9" cy="763.4" rx="3.05" ry="3.0" fill="#fcf4e0" stroke="#e6cc9c" stroke-width="0.3"/>
<ellipse cx="541.5" cy="763.7" rx="0.75" ry="0.45" fill="#7f95c8"/>
<ellipse cx="547.3" cy="763.4" rx="3.05" ry="3.0" fill="#fcf4e0" stroke="#e6cc9c" stroke-width="0.3"/>
<ellipse cx="547.4" cy="763.7" rx="0.75" ry="0.45" fill="#7f95c8"/>
<ellipse cx="553.3" cy="763.4" rx="3.05" ry="3.0" fill="#fcf4e0" stroke="#e6cc9c" stroke-width="0.3"/>
<ellipse cx="553.4" cy="763.7" rx="0.75" ry="0.45" fill="#7f95c8"/>
<ellipse cx="559.3" cy="762.9" rx="3.05" ry="3.0" fill="#fcf4e0" stroke="#e6cc9c" stroke-width="0.3"/>
<ellipse cx="559.7" cy="763.2" rx="0.75" ry="0.45" fill="#7f95c8"/>
<ellipse cx="565.5" cy="762.8" rx="3.05" ry="3.0" fill="#fcf4e0" stroke="#e6cc9c" stroke-width="0.3"/>
<ellipse cx="565.1" cy="763.1" rx="0.75" ry="0.45" fill="#7f95c8"/>
<ellipse cx="572.1" cy="763.0" rx="3.05" ry="3.0" fill="#fcf4e0" stroke="#e6cc9c" stroke-width="0.3"/>
<ellipse cx="571.9" cy="763.3" rx="0.75" ry="0.45" fill="#7f95c8"/>
</g>
<path d="M 520.4 706.6 L 550.3 706.6 Q 544.0 709.5 539.3 714.2 L 531.4 714.2 Q 526.7 709.5 520.4 706.6 Z" fill="#e6b4bb"/>
<ellipse cx="535.6" cy="733" rx="20.3" ry="25" fill="#fdf8f6"/>
<path d="M 524.3 711.8 C 510.6 723.6 511.2 747.3 529.0 757.1 C 518.5 746.5 518.0 726.0 527.0 713.9 Z" fill="#c9abdd" stroke="#9468b6" stroke-width="0.4"/>
<path d="M 542.1 709.8 C 558.8 718.9 560.4 744.1 544.8 755.5 C 555.4 743.4 554.4 723.6 543.2 711.8 Z" fill="#c9abdd" stroke="#9468b6" stroke-width="0.4"/>
<path d="M 525.9 715.0 C 518.0 726.8 518.5 745.7 528.6 755.2 C 525.9 744.1 525.4 726.8 525.9 715.0 Z" fill="#e6b0b4" stroke="#c98a90" stroke-width="0.3"/>
<path d="M 544.0 713.4 C 553.8 723.6 554.7 742.6 545.6 754.4 C 549.1 742.6 548.8 725.2 544.0 713.4 Z" fill="#e6b0b4" stroke="#c98a90" stroke-width="0.3"/>
<path d="M 527.5 715.8 C 522.7 728.4 522.0 744.1 527.5 752.8 C 531.4 742.6 530.6 726.8 527.5 715.8 Z" fill="#dba0a4" stroke="#c27c82" stroke-width="0.3"/>
<path d="M 533.8 711.8 C 524.3 723.6 524.3 744.1 529.5 752.8 C 533.3 742.6 533.3 725.2 533.8 711.8 Z" fill="#cfe8a8" stroke="#a8cc7c" stroke-width="0.3"/>
<path d="M 535.4 717.3 C 528.3 730.0 529.0 747.3 533.3 755.2 C 539.3 745.7 539.3 730.0 535.4 717.3 Z" fill="#d99498" stroke="#bf7078" stroke-width="0.3"/>
<path d="M 539.3 715.0 C 536.9 725.2 537.7 736.3 541.2 741.3 C 544.0 734.7 542.8 723.6 539.3 715.0 Z" fill="#dfa6aa" stroke="#c27c82" stroke-width="0.3"/>
<path d="M 542.1 715.8 C 541.7 726.8 542.4 736.3 545.3 741.3 C 548.1 734.7 546.4 723.6 542.1 715.8 Z" fill="#cfe8a8" stroke="#a8cc7c" stroke-width="0.3"/>
<path d="M 536.9 737.0 C 533.8 744.1 534.3 752.0 536.1 756.0 C 539.3 750.4 539.3 742.6 536.9 737.0 Z" fill="#cfe8a8" stroke="#a8cc7c" stroke-width="0.3"/>
<path d="M 540.1 739.4 C 536.9 745.7 537.4 752.8 539.3 756.4 C 542.8 751.2 542.4 744.1 540.1 739.4 Z" fill="#c8a8dc" stroke="#9a70bc" stroke-width="0.3"/>
<path d="M 548.0 733.9 C 543.2 741.0 543.2 750.4 545.6 755.2 C 551.9 750.4 551.9 741.0 548.0 733.9 Z" fill="#d99498" stroke="#bf7078" stroke-width="0.3"/>
<ellipse cx="519.12" cy="735.47" rx="1.0" ry="2.2" fill="#6f7cc6" transform="rotate(0 519.12 735.47)"/>
<ellipse cx="523.53" cy="726.8" rx="1.0" ry="2.2" fill="#6f7cc6" transform="rotate(10 523.53 726.8)"/>
<ellipse cx="528.58" cy="730.74" rx="1.0" ry="2.2" fill="#6f7cc6" transform="rotate(5 528.58 730.74)"/>
<ellipse cx="533.31" cy="733.11" rx="1.0" ry="2.2" fill="#6f7cc6" transform="rotate(5 533.31 733.11)"/>
<ellipse cx="540.56" cy="731.22" rx="1.0" ry="2.2" fill="#6f7cc6" transform="rotate(0 540.56 731.22)"/>
<ellipse cx="544.34" cy="732.32" rx="1.0" ry="2.2" fill="#6f7cc6" transform="rotate(0 544.34 732.32)"/>
<ellipse cx="550.65" cy="728.69" rx="1.0" ry="2.2" fill="#6f7cc6" transform="rotate(-15 550.65 728.69)"/>
<ellipse cx="548.44" cy="741.78" rx="1.0" ry="2.2" fill="#6f7cc6" transform="rotate(0 548.44 741.78)"/>
<ellipse cx="539.77" cy="745.72" rx="1.0" ry="2.2" fill="#6f7cc6" transform="rotate(0 539.77 745.72)"/>
<line x1="529.84" y1="707.88" x2="532.2" y2="713.4" stroke="#b48ad0" stroke-width="0.3"/>
<line x1="533.31" y1="708.67" x2="534.57" y2="714.19" stroke="#b48ad0" stroke-width="0.3"/>
<line x1="536.93" y1="708.67" x2="536.93" y2="714.19" stroke="#b48ad0" stroke-width="0.3"/>
<line x1="539.3" y1="708.67" x2="538.67" y2="714.19" stroke="#b48ad0" stroke-width="0.3"/>
<line x1="541.66" y1="707.88" x2="540.56" y2="713.4" stroke="#b48ad0" stroke-width="0.3"/>
</g>
<path d="M 529.5 752.8 C 531.4 763.1 544.0 773.3 555.1 773.8 L 589.7 773.8" fill="none" stroke="#a9d486" stroke-width="0.8"/>
<path d="M 536.1 756.0 C 537.7 764.6 545.6 772.8 555.1 774.1" fill="none" stroke="#a9d486" stroke-width="0.7"/>
<path d="M 544.0 747.3 C 539.3 759.9 539.3 769.4 551.9 773.8" fill="none" stroke="#a9d486" stroke-width="0.7"/>
<path d="M 533.3 755.2 C 539.3 763.1 545.6 771.7 558.2 773.2 L 589.7 773.2" fill="none" stroke="#e2c6a8" stroke-width="0.6"/>
<path d="M 539.3 756.4 C 542.4 766.2 547.2 774.1 558.2 774.6 L 589.7 774.6" fill="none" stroke="#e7c3d3" stroke-width="0.5"/>
<path d="M 428.4 733.2 C 441.9 735.9 455.4 732.4 470.3 737.0 C 483.8 741.3 477.0 763.4 487.8 768.3 C 493.2 770.2 498.6 768.8 504.0 768.8" fill="none" stroke="#e38c8c" stroke-width="0.6"/>
<path d="M 428.4 752.1 C 439.2 755.9 455.4 749.9 466.2 752.1 C 477.0 754.8 473.0 768.8 482.4 774.8 C 487.8 777.5 495.9 775.8 504.0 774.8" fill="none" stroke="#e38c8c" stroke-width="0.6"/>
<path d="M 492.0 769.4 C 499.9 770.2 507.8 769.4 507.8 763.1 C 507.8 756.8 505.4 753.6 507.0 750.4" fill="none" stroke="#e38c8c" stroke-width="0.5"/>
<path d="M 492.0 776.9 C 501.5 777.6 513.3 777.3 514.9 769.4 C 516.4 759.9 512.5 752.0 513.3 745.7 C 513.8 739.4 510.9 737.8 512.2 733.9" fill="none" stroke="#e38c8c" stroke-width="0.5"/>
<ellipse cx="454.6" cy="728.9" rx="3" ry="3.9" fill="#b4c2e6" stroke="#93a6d8" stroke-width="0.4"/>
<ellipse cx="454.6" cy="728.9" rx="1.2" ry="1.9" fill="#3f55a6"/>
<line x1="454.6" y1="732.8" x2="454.6" y2="734.1" stroke="#93a6d8" stroke-width="0.5"/>
<ellipse cx="441.4" cy="748.8" rx="3" ry="3.9" fill="#b4c2e6" stroke="#93a6d8" stroke-width="0.4"/>
<ellipse cx="441.4" cy="748.8" rx="1.2" ry="1.9" fill="#3f55a6"/>
<line x1="441.4" y1="752.6999999999999" x2="441.4" y2="754.0" stroke="#93a6d8" stroke-width="0.5"/>
<path d="M 558.3 681.5 C 558.6 680.9 559.0 679.1 560.0 677.4 C 561.1 675.8 562.8 673.9 564.7 671.6 C 566.7 669.3 569.0 666.5 571.7 663.7 C 574.5 660.9 577.8 657.7 581.1 654.8 C 584.4 652.0 587.9 649.1 591.7 646.6 C 595.4 644.2 599.5 642.0 603.4 640.1 C 607.3 638.2 611.0 636.8 615.1 635.3 C 619.2 633.7 627.3 631.0 628.0 630.9 C 628.6 630.9 619.4 634.6 619.1 634.9 C 618.7 635.1 624.9 632.9 626.1 632.5" fill="none" stroke="#858585" stroke-width="0.55" stroke-linecap="round" stroke-linejoin="round"/>
<path d="M 626.1 632.5 C 627.0 631.3 629.0 627.4 631.4 625.1 C 633.7 622.9 637.7 620.4 640.1 619.3 C 642.6 618.2 644.3 617.8 646.0 618.4 C 647.7 618.9 649.3 620.8 650.1 622.3 C 650.9 623.9 650.8 626.9 650.9 627.8" fill="none" stroke="#858585" stroke-width="0.55" stroke-linecap="round" stroke-linejoin="round"/>
<path d="M 642.2 635.7 C 643.5 634.6 647.1 630.6 649.5 629.0 C 651.9 627.4 654.4 626.2 656.5 626.1 C 658.7 626.0 660.7 626.8 662.4 628.4 C 664.1 630.0 665.9 633.0 666.5 635.7 C 667.1 638.4 666.6 641.7 665.9 644.8 C 665.3 647.9 664.0 650.9 662.6 654.2 C 661.3 657.5 659.3 662.0 657.9 664.5 C 656.6 667.0 655.5 668.3 654.4 669.2 C 653.3 670.1 651.8 670.0 651.3 670.1" fill="none" stroke="#858585" stroke-width="0.55" stroke-linecap="round" stroke-linejoin="round"/>
<path d="M 648.6 640.7 C 649.3 640.0 651.5 637.0 653.0 636.2 C 654.5 635.3 656.5 634.8 657.7 635.7 C 658.9 636.6 659.9 639.2 660.1 641.5 C 660.2 643.9 659.6 647.1 658.9 649.5 C 658.1 652.0 656.7 654.6 655.6 656.3 C 654.5 658.0 652.7 658.9 652.1 659.5" fill="none" stroke="#858585" stroke-width="0.55" stroke-linecap="round" stroke-linejoin="round"/>
<path d="M 666.5 644.8 L 676.5 651.4" fill="none" stroke="#858585" stroke-width="0.55" stroke-linecap="round" stroke-linejoin="round"/>
<path d="M 648.6 640.7 C 649.0 642.6 650.6 648.8 651.3 651.9 C 652.0 654.9 652.5 657.9 652.8 659.1" fill="none" stroke="#858585" stroke-width="0.45" stroke-linecap="round" stroke-linejoin="round"/>
<path d="M 650.1 647.8 C 650.8 647.6 653.0 646.8 654.2 646.9 C 655.4 647.1 656.9 648.3 657.5 648.6" fill="none" stroke="#858585" stroke-width="0.45" stroke-linecap="round" stroke-linejoin="round"/>
<path d="M 558.3 681.5 C 558.4 682.3 558.2 684.6 558.9 686.2 C 559.5 687.8 561.2 689.5 562.4 691.1 C 563.6 692.7 564.8 694.3 566.1 695.8 C 567.5 697.4 569.2 699.3 570.6 700.3 C 571.9 701.2 573.1 701.5 574.1 701.5 C 575.1 701.5 576.0 700.5 576.4 700.3" fill="none" stroke="#858585" stroke-width="0.55" stroke-linecap="round" stroke-linejoin="round"/>
<path d="M 575.8 701.7 C 577.1 701.9 580.8 702.7 583.5 703.1 C 586.1 703.4 588.9 703.1 591.7 703.8 C 594.4 704.5 597.1 705.9 599.9 707.3 C 602.6 708.7 605.3 710.6 608.1 712.0 C 610.8 713.4 613.7 714.6 616.3 715.5 C 618.8 716.4 621.3 716.5 623.3 717.4 C 625.2 718.3 626.9 719.9 628.0 720.8 C 629.1 721.7 629.5 722.4 629.8 722.8" fill="none" stroke="#858585" stroke-width="0.55" stroke-linecap="round" stroke-linejoin="round"/>
<path d="M 561.2 682.9 C 561.4 682.3 561.2 681.0 562.4 679.2 C 563.5 677.4 565.9 674.7 568.2 672.2 C 570.6 669.6 573.7 666.6 576.4 664.0 C 579.2 661.4 581.7 658.9 584.6 656.5 C 587.6 654.1 590.7 651.7 594.0 649.4 C 597.3 647.2 600.8 645.1 604.5 643.1 C 608.2 641.2 612.3 639.3 616.3 637.7 C 620.2 636.1 627.9 633.6 628.0 633.5 C 628.0 633.4 617.0 637.1 616.7 637.2 C 616.4 637.3 623.2 634.9 626.1 634.1 C 629.0 633.2 631.9 632.1 634.3 632.2 C 636.6 632.3 639.2 634.1 640.1 634.5" fill="none" stroke="#858585" stroke-width="0.55" stroke-linecap="round" stroke-linejoin="round"/>
<path d="M 563.8 681.8 C 565.1 680.0 569.0 674.3 571.7 671.2 C 574.4 668.2 577.2 665.9 579.9 663.4 C 582.7 660.9 585.2 658.6 588.1 656.4 C 591.1 654.1 594.2 652.1 597.5 650.1 C 600.8 648.2 604.5 646.4 608.1 644.8 C 611.6 643.1 615.1 641.7 618.6 640.3 C 622.1 638.9 629.6 636.6 629.1 636.6 C 628.6 636.5 616.2 640.3 615.5 640.1 C 614.8 640.0 622.0 636.7 624.9 635.7 C 627.8 634.7 630.9 634.0 633.1 634.3 C 635.4 634.5 637.5 636.7 638.4 637.2" fill="none" stroke="#858585" stroke-width="0.45" stroke-linecap="round" stroke-linejoin="round"/>
<path d="M 571.5 671.7 C 571.7 671.5 569.7 673.5 572.4 670.8 C 575.2 668.1 585.6 658.2 588.1 655.5 C 590.7 652.9 590.3 652.3 587.6 654.8 C 584.8 657.3 574.2 667.7 571.5 670.5 C 568.8 673.3 571.5 671.5 571.5 671.7" fill="none" stroke="#858585" stroke-width="0.4" stroke-linecap="round" stroke-linejoin="round"/>
<path d="M 561.2 682.9 C 561.8 683.7 563.5 686.3 564.7 687.6 C 565.9 689.0 566.9 689.6 568.2 691.1 C 569.6 692.7 571.6 695.3 572.9 696.8 C 574.2 698.2 575.5 699.3 576.0 699.8" fill="none" stroke="#858585" stroke-width="0.55" stroke-linecap="round" stroke-linejoin="round"/>
<path d="M 563.8 681.8 C 564.1 682.5 564.8 684.9 565.7 686.2 C 566.5 687.6 567.8 688.5 568.8 689.7 C 569.8 691.0 570.8 692.4 571.7 693.8 C 572.7 695.3 574.2 697.7 574.7 698.5" fill="none" stroke="#858585" stroke-width="0.45" stroke-linecap="round" stroke-linejoin="round"/>
<path d="M 565.7 686.5 C 567.1 685.6 571.7 682.9 574.1 681.5 C 576.5 680.1 577.8 678.8 580.2 678.0 C 582.5 677.2 585.6 676.7 588.1 676.9 C 590.6 677.1 592.8 678.8 595.2 679.2 C 597.5 679.6 599.9 679.6 602.2 679.2 C 604.5 678.8 606.5 677.4 609.2 676.9 C 612.0 676.3 615.5 676.5 618.6 675.7 C 621.7 674.9 627.7 671.8 628.0 672.2 C 628.2 672.5 620.2 677.3 620.2 677.6 C 620.3 677.9 625.9 675.3 628.4 674.1 C 631.0 672.9 633.7 672.2 635.5 670.6 C 637.2 669.0 638.2 667.1 639.0 664.7 C 639.8 662.4 639.9 657.9 640.1 656.5" fill="none" stroke="#858585" stroke-width="0.55" stroke-linecap="round" stroke-linejoin="round"/>
<path d="M 567.1 688.6 C 567.6 688.2 569.2 686.8 570.6 686.2 C 571.9 685.6 574.5 685.2 575.3 685.1" fill="none" stroke="#858585" stroke-width="0.45" stroke-linecap="round" stroke-linejoin="round"/>
<path d="M 594.0 679.2 C 595.0 679.6 597.5 681.3 599.9 681.5 C 602.2 681.7 605.3 681.0 608.1 680.4 C 610.8 679.8 613.3 678.8 616.3 678.0 C 619.2 677.2 626.3 675.4 625.6 675.7 C 624.9 676.0 612.9 680.0 612.0 680.0 C 611.1 679.9 618.9 676.1 620.2 675.3" fill="none" stroke="#858585" stroke-width="0.45" stroke-linecap="round" stroke-linejoin="round"/>
<ellipse cx="581.3" cy="682.5" rx="5.8" ry="1.8" fill="none" stroke="#858585" stroke-width="0.5" transform="rotate(-20 581.3 682.5)"/>
<path d="M 593.4 657.5 C 593.9 656.8 594.9 654.4 596.3 653.4 C 597.8 652.5 600.2 651.7 602.2 651.7 C 604.1 651.7 606.1 652.4 608.1 653.4 C 610.0 654.5 611.4 656.9 613.9 658.1 C 616.4 659.3 620.1 660.5 623.3 660.7 C 626.5 660.9 631.4 659.5 633.0 659.3" fill="none" stroke="#858585" stroke-width="0.5" stroke-linecap="round" stroke-linejoin="round"/>
<path d="M 594.0 659.3 C 594.6 658.6 596.3 656.1 597.5 655.2 C 598.7 654.3 600.1 653.8 601.0 654.0 C 602.0 654.2 603.0 656.0 603.4 656.4" fill="none" stroke="#858585" stroke-width="0.4" stroke-linecap="round" stroke-linejoin="round"/>
<path d="M 603.4 665.1 C 604.7 664.9 609.0 664.0 611.6 664.0 C 614.1 664.0 615.9 664.8 618.6 665.1 C 621.3 665.5 625.2 666.3 628.0 666.3 C 630.7 666.3 633.8 665.3 635.0 665.1" fill="none" stroke="#858585" stroke-width="0.45" stroke-linecap="round" stroke-linejoin="round"/>
<path d="M 604.5 673.6 C 605.7 673.5 609.2 673.3 611.6 673.3 C 613.9 673.3 617.0 673.4 618.6 673.6 C 620.2 673.8 620.9 674.2 620.9 674.5 C 620.9 674.9 620.7 675.6 618.6 675.7 C 616.4 675.8 610.4 675.6 608.1 675.2 C 605.7 674.9 605.1 673.8 604.5 673.6" fill="none" stroke="#858585" stroke-width="0.45" stroke-linecap="round" stroke-linejoin="round"/>
<path d="M 608.1 662.8 C 609.4 663.4 613.3 665.3 616.3 666.3 C 619.2 667.3 622.5 668.4 625.6 668.7 C 628.7 668.9 633.4 668.2 635.0 668.1" fill="none" stroke="#858585" stroke-width="0.4" stroke-linecap="round" stroke-linejoin="round"/>
<path d="M 605.0 655.6 C 605.8 656.3 607.7 659.1 609.7 660.1 C 611.6 661.0 614.2 661.7 616.7 661.5 C 619.3 661.3 622.5 659.9 624.9 658.9 C 627.3 657.9 629.1 656.7 631.0 655.4 C 633.0 654.0 635.4 652.4 636.6 650.7 C 637.9 648.9 638.5 646.7 638.5 644.8 C 638.5 642.9 637.9 640.6 636.6 639.2 C 635.4 637.8 633.3 636.5 631.0 636.2 C 628.7 635.8 625.7 636.1 622.6 637.1 C 619.4 638.1 615.0 640.4 612.0 642.2 C 609.1 644.1 606.8 646.5 605.0 648.1 C 603.2 649.7 601.5 650.6 601.5 651.9 C 601.5 653.1 604.4 655.0 605.0 655.6" fill="none" stroke="#858585" stroke-width="0.55" stroke-linecap="round" stroke-linejoin="round"/>
<path d="M 605.0 650.7 C 606.2 649.7 609.1 646.7 612.0 644.8 C 615.0 643.0 619.4 640.7 622.6 639.7 C 625.7 638.7 628.6 638.3 630.8 638.7 C 633.0 639.2 634.8 640.9 635.7 642.5 C 636.6 644.1 636.0 647.4 636.0 648.3" fill="none" stroke="#858585" stroke-width="0.4" stroke-linecap="round" stroke-linejoin="round"/>
<path d="M 624.9 658.9 C 625.3 658.5 626.1 656.9 627.3 656.5 C 628.4 656.1 630.8 656.9 631.9 656.5 C 633.1 656.1 633.9 654.6 634.3 654.2" fill="none" stroke="#858585" stroke-width="0.4" stroke-linecap="round" stroke-linejoin="round"/>
<path d="M 605.0 643.1 C 606.6 642.3 611.2 639.7 614.4 638.4 C 617.5 637.1 620.6 635.9 623.7 635.2 C 626.9 634.5 630.6 633.9 633.1 634.3 C 635.7 634.7 638.0 637.2 639.0 637.8" fill="none" stroke="#858585" stroke-width="0.4" stroke-linecap="round" stroke-linejoin="round"/>
<path d="M 605.0 645.4 C 606.6 644.5 611.2 641.6 614.4 640.1 C 617.5 638.7 620.8 637.3 623.7 636.6 C 626.7 636.0 630.6 636.4 631.9 636.4" fill="none" stroke="#858585" stroke-width="0.4" stroke-linecap="round" stroke-linejoin="round"/>
<path d="M 640.7 638.4 C 640.6 639.3 639.8 641.7 639.8 643.7 C 639.8 645.6 640.8 649.0 641.0 650.1" fill="none" stroke="#858585" stroke-width="0.4" stroke-linecap="round" stroke-linejoin="round"/>
<path d="M 642.2 638.7 C 642.1 639.6 641.3 641.8 641.3 643.7 C 641.4 645.5 642.3 648.7 642.5 649.7" fill="none" stroke="#858585" stroke-width="0.4" stroke-linecap="round" stroke-linejoin="round"/>
<path d="M 643.8 639.1 C 643.6 639.8 642.8 641.9 642.8 643.7 C 642.9 645.4 643.8 648.4 644.0 649.4" fill="none" stroke="#858585" stroke-width="0.4" stroke-linecap="round" stroke-linejoin="round"/>
<path d="M 645.3 639.4 C 645.1 640.1 644.3 642.1 644.4 643.7 C 644.4 645.3 645.3 648.1 645.5 649.0" fill="none" stroke="#858585" stroke-width="0.4" stroke-linecap="round" stroke-linejoin="round"/>
<path d="M 646.8 639.8 C 646.7 640.4 645.8 642.2 645.9 643.7 C 645.9 645.1 646.9 647.9 647.1 648.7" fill="none" stroke="#858585" stroke-width="0.4" stroke-linecap="round" stroke-linejoin="round"/>
<path d="M 648.3 640.1 C 648.2 640.7 647.4 642.3 647.4 643.7 C 647.4 645.0 648.4 647.6 648.6 648.3" fill="none" stroke="#858585" stroke-width="0.4" stroke-linecap="round" stroke-linejoin="round"/>
<path d="M 640.1 637.8 C 640.9 637.6 643.4 636.2 644.8 636.4 C 646.3 636.6 647.9 637.6 648.9 639.0 C 650.0 640.4 651.2 643.1 651.3 644.8 C 651.4 646.6 650.6 648.4 649.5 649.5 C 648.4 650.6 646.3 651.3 644.8 651.3 C 643.4 651.3 641.4 649.8 640.7 649.5" fill="none" stroke="#858585" stroke-width="0.45" stroke-linecap="round" stroke-linejoin="round"/>
<path d="M 605.0 662.4 C 606.6 663.0 611.2 665.1 614.4 665.9 C 617.5 666.7 620.6 667.1 623.7 667.1 C 626.9 667.1 630.6 666.8 633.1 665.9 C 635.6 665.0 637.6 663.2 638.7 661.5 C 639.9 659.7 639.9 656.6 640.1 655.6" fill="none" stroke="#858585" stroke-width="0.45" stroke-linecap="round" stroke-linejoin="round"/>
<path d="M 607.3 664.7 C 608.9 665.4 613.6 668.1 616.7 668.8 C 619.8 669.6 623.2 669.5 626.1 669.2 C 629.0 668.9 632.2 668.0 634.3 667.1 C 636.3 666.1 637.7 664.2 638.4 663.6" fill="none" stroke="#858585" stroke-width="0.4" stroke-linecap="round" stroke-linejoin="round"/>
<path d="M 640.1 660.1 C 640.3 660.5 640.6 662.5 641.3 663.0 C 642.0 663.5 643.5 663.7 644.2 663.1 C 645.0 662.5 645.7 660.2 646.0 659.6" fill="none" stroke="#858585" stroke-width="0.45" stroke-linecap="round" stroke-linejoin="round"/>
<path d="M 605.0 672.4 C 606.2 672.5 609.7 672.9 612.0 672.9 C 614.4 673.0 617.6 672.5 619.1 672.7 C 620.5 672.9 620.8 673.7 620.8 674.1 C 620.8 674.5 620.9 674.9 619.1 675.3 C 617.2 675.7 612.0 676.5 609.7 676.7 C 607.3 676.9 605.8 676.5 605.0 676.5" fill="none" stroke="#858585" stroke-width="0.45" stroke-linecap="round" stroke-linejoin="round"/>
<g stroke="#f3efa4" stroke-linecap="round" fill="none">
<path d="M 588.1 667.7 L 587.2 671.7" stroke-width="2.3"/>
<path d="M 593.5 667.7 L 591.9 671.7" stroke-width="2.3"/>
<path d="M 598.9 668.2 L 596.8 671.7" stroke-width="2.3"/>
<path d="M 586.0 667.5 L 602.2 666.5" stroke-width="2.2"/>
</g>
<path d="M 594.2 660.7 C 596.9 658.7 599.9 663.4 604.5 664.2 C 609.2 665.1 609.5 670.4 605.7 671.2 C 603.6 673.6 600.4 674.3 600.1 671.0 C 600.3 668.7 599.3 667.2 596.6 667.7 C 594.0 667.2 593.4 664.0 594.2 660.7 Z" fill="#f3efa4" stroke="#ece690" stroke-width="0.2" stroke-linecap="round" stroke-linejoin="round"/>
<path d="M 574.1 692.1 C 575.3 688.6 582.3 684.8 588.1 682.7 C 591.7 682.1 594.2 682.9 595.4 683.9 C 592.8 687.4 587.6 692.1 582.3 695.6 C 579.0 697.4 574.7 696.2 574.1 692.1 Z" fill="#b99695" stroke="#ab8a8c" stroke-width="0.2" stroke-linecap="round" stroke-linejoin="round"/>
<path d="M 594.0 682.9 L 600.1 682.5 L 595.2 684.8 Z" fill="#c08a82" stroke="#b98078" stroke-width="0.1" stroke-linecap="round" stroke-linejoin="round"/>
<path d="M570.8 588.6L596.9 662.2" stroke="#a9c8ea" stroke-width="0.5" stroke-dasharray="1.6 1.4" fill="none"/>
<path d="M570.8 643.8L595.2 665.1" stroke="#a9c8ea" stroke-width="0.5" fill="none"/>
<path d="M500.7 706.6L582.3 689.2" stroke="#a9c8ea" stroke-width="0.5" fill="none"/>
<path d="M569.6 706.6L582.3 689.7" stroke="#a9c8ea" stroke-width="0.5" stroke-dasharray="1.6 1.4" fill="none"/>
<circle cx="579.7" cy="690.9" r="1.8" fill="none" stroke="#9fc0ea" stroke-width="0.4" stroke-dasharray="0.9 0.7"/>
</svg>
</body></html>
